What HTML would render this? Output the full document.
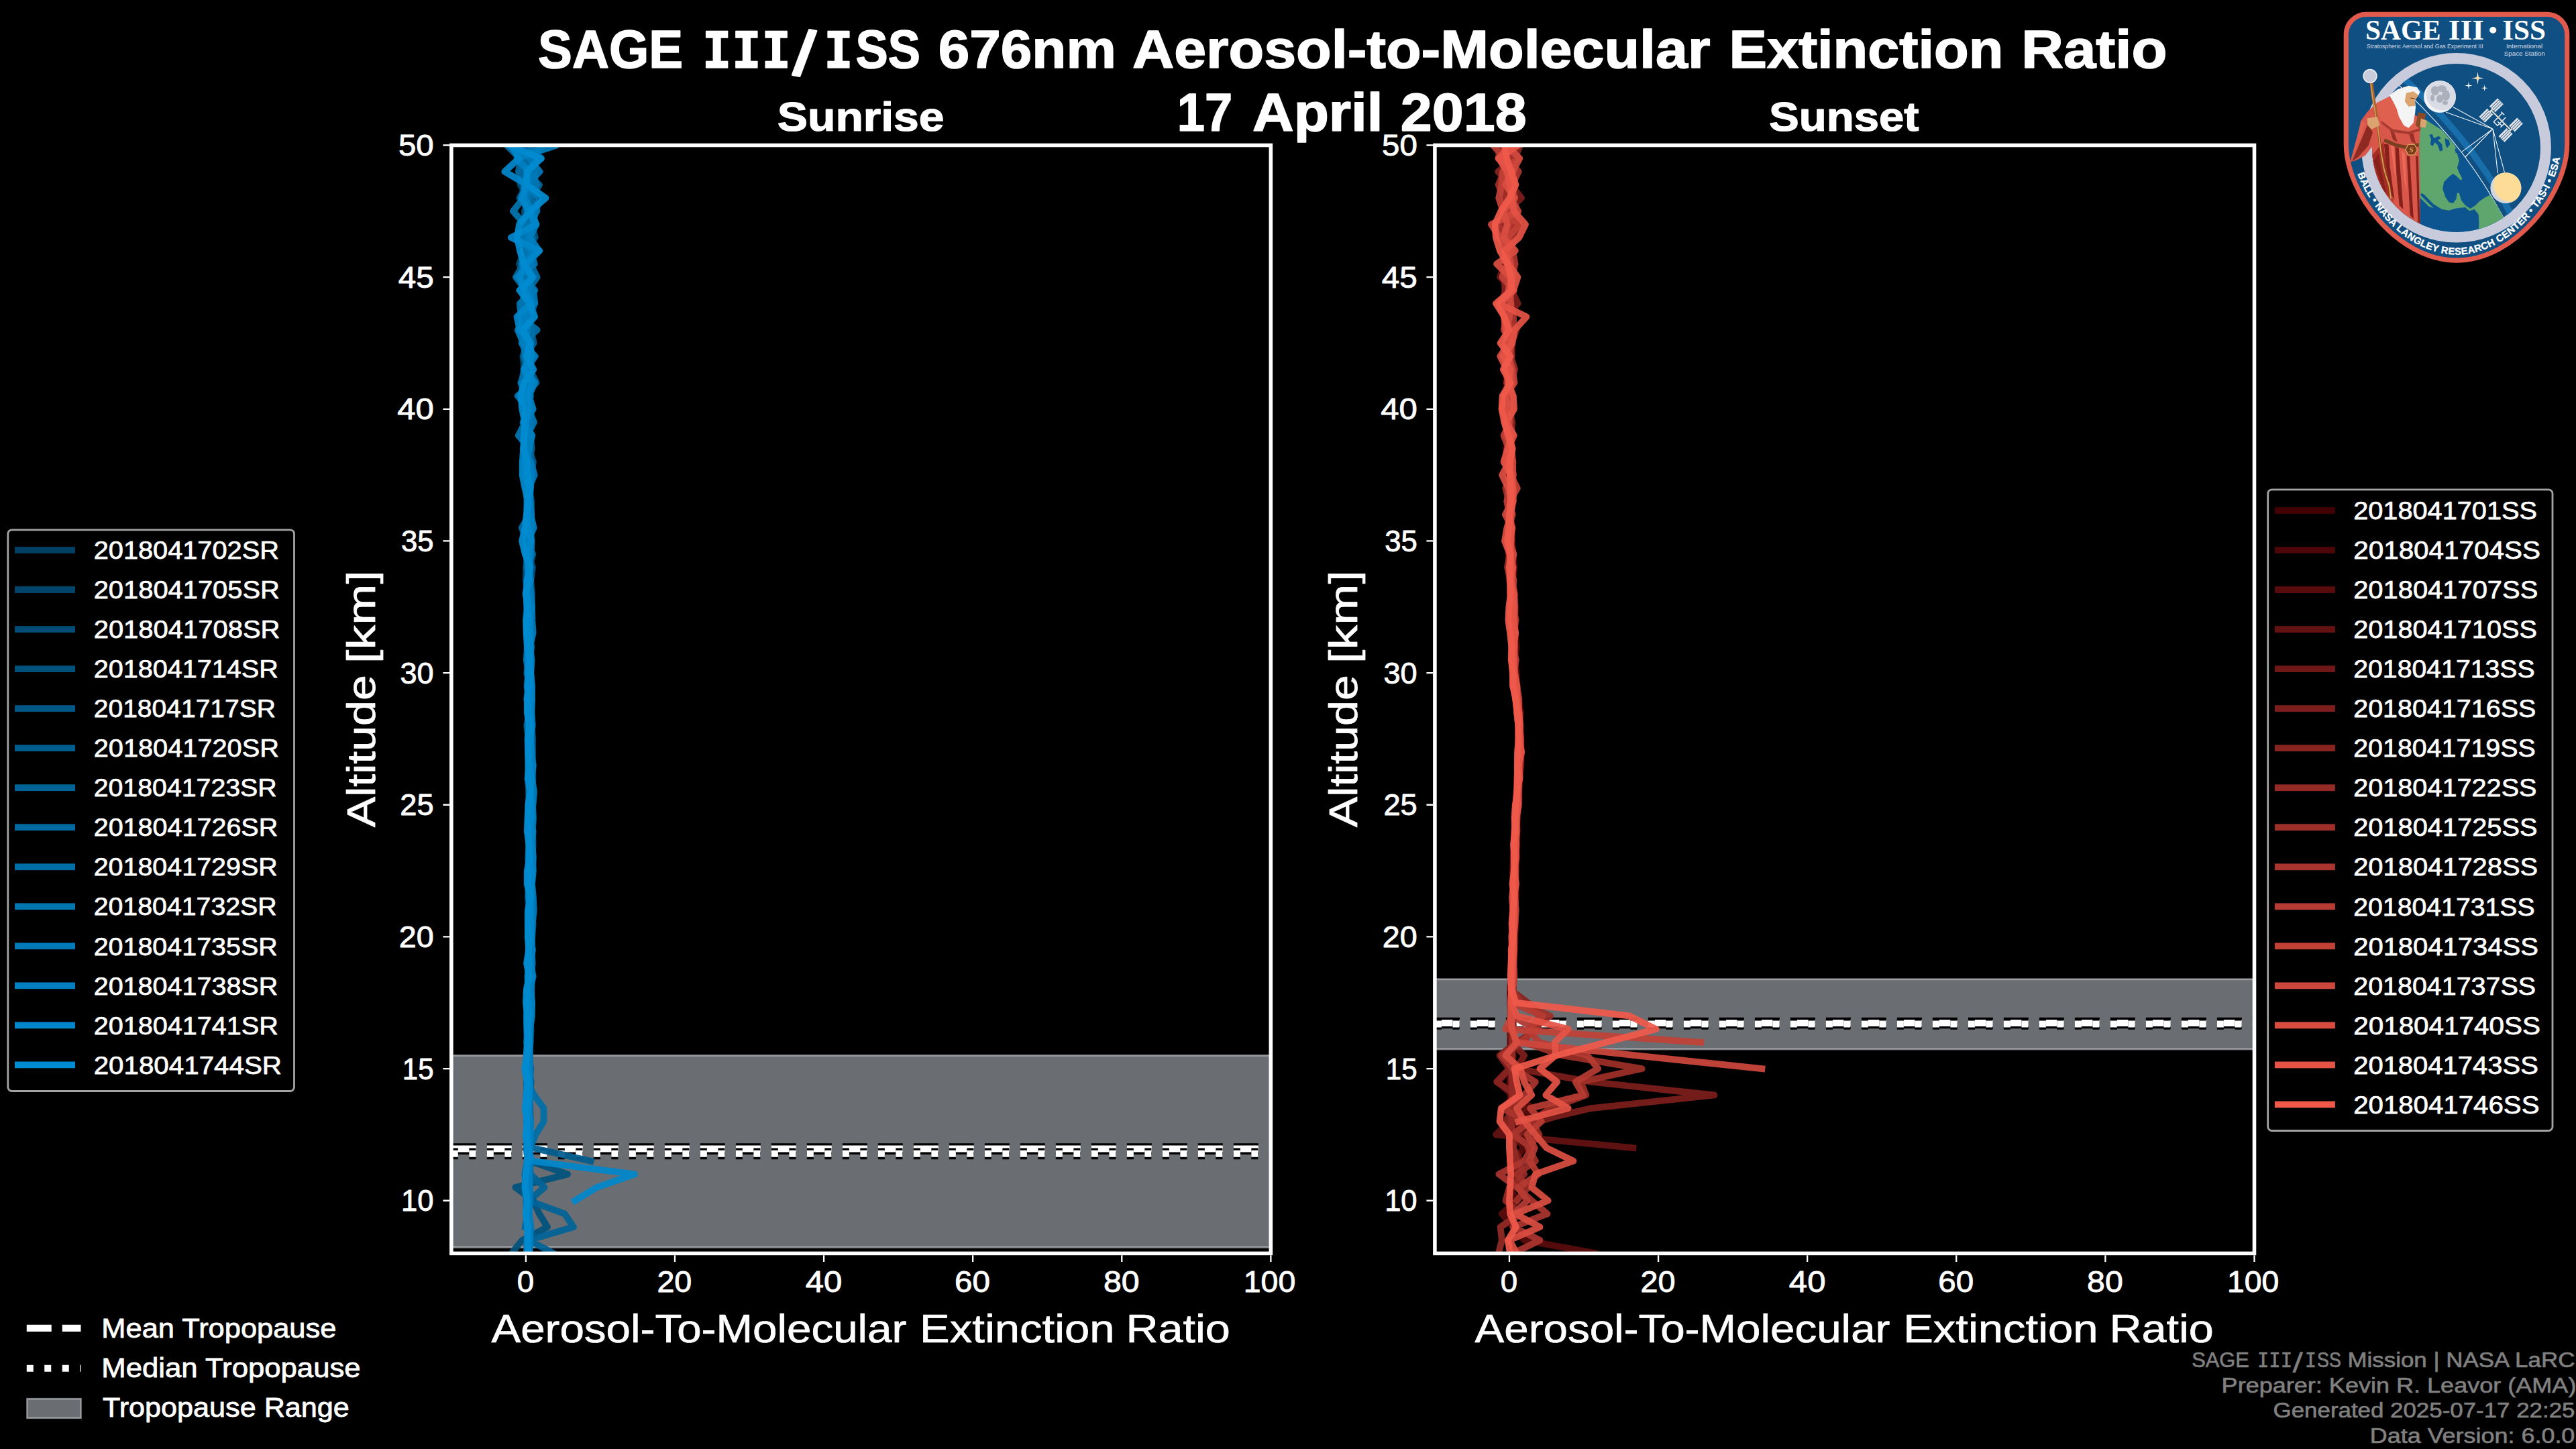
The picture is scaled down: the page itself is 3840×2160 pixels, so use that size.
<!DOCTYPE html>
<html lang="en"><head><meta charset="utf-8"><title>SAGE III/ISS 676nm Aerosol-to-Molecular Extinction Ratio</title>
<style>
html,body{margin:0;padding:0;background:#000;}
body{width:3840px;height:2160px;overflow:hidden;}
svg{display:block;}
text{white-space:pre;}
</style></head><body>
<svg width="3840" height="2160" viewBox="0 0 3840 2160">
<rect width="3840" height="2160" fill="#000"/>
<clipPath id="clip0"><rect x="672.85" y="216.5" width="1221.5" height="1651.9"/></clipPath>
<g clip-path="url(#clip0)">
<rect x="667.85" y="1573.42" width="1231.5" height="285.94" fill="#6a6d72" stroke="#d0d2d6" stroke-opacity="0.6" stroke-width="2.8"/>
<path d="M672.85 1712.6H1894.35" stroke="#000" stroke-width="16.7" stroke-dasharray="37 16" fill="none"/>
<path d="M672.85 1712.6H1894.35" stroke="#fff" stroke-width="10" stroke-dasharray="37 16" fill="none"/>
<path d="M672.85 1719.8H1894.35" stroke="#000" stroke-width="16.7" stroke-dasharray="10 16.5" fill="none"/>
<path d="M672.85 1719.8H1894.35" stroke="#fff" stroke-width="10" stroke-dasharray="10 16.5" fill="none"/>
<g fill="none" stroke-width="9.8" stroke-linejoin="round" stroke-linecap="square" opacity="1">
<path d="M772.89 196.83L786.71 216.5L780.94 236.17L775.08 255.83L775.28 275.5L787.16 295.16L781.92 314.83L783.4 334.49L782.56 354.16L784.15 373.82L791.93 393.49L780.47 413.15L782.48 432.82L786.14 452.49L784.17 472.15L782.16 491.82L784.73 511.48L785.46 531.15L782.22 550.81L786.57 570.48L785.47 590.14L783.85 609.81L786.44 629.48L783.79 649.14L786.87 668.81L782.98 688.47L785.79 708.14L786.42 727.8L785.02 747.47L785.12 767.13L783.68 786.8L786.34 806.46L784.84 826.13L785.35 845.8L786.83 865.46L784.36 885.13L786.16 904.79L787.07 924.46L785.41 944.12L785.44 963.79L787.36 983.45L787.51 1003.12L787.99 1022.78L787.21 1042.45L787.39 1062.12L786.88 1081.78L787.58 1101.45L788.24 1121.11L787.92 1140.78L788.34 1160.44L788.33 1180.11L790.03 1199.77L788.69 1219.44L789.51 1239.1L789.05 1258.77L787.94 1278.44L789.47 1298.1L788.32 1317.77L788.74 1337.43L789.73 1357.1L789.35 1376.76L788.14 1396.43L788.33 1416.09L787.3 1435.76L786.9 1455.43L787.29 1475.09L787.4 1494.76L787.22 1514.42L786.46 1534.09L785.69 1553.75L785.61 1573.42L784.45 1593.08L785.38 1612.75L785.37 1632.41L784.96 1652.08L785.06 1671.75" stroke="#004064" stroke-opacity="0.93"/>
<path d="M792.67 196.83L804.42 216.5L792.98 236.17L782.77 255.83L783.95 275.5L782.84 295.16L786.92 314.83L790.25 334.49L785.04 354.16L783.32 373.82L787.86 393.49L786.01 413.15L786.88 432.82L787.75 452.49L786.77 472.15L783.41 491.82L783.81 511.48L786.9 531.15L784.72 550.81L784.57 570.48L787.18 590.14L788.8 609.81L786.34 629.48L787.68 649.14L788.14 668.81L784.65 688.47L785.4 708.14L784.52 727.8L786.25 747.47L788.24 767.13L786.44 786.8L788.25 806.46L787.78 826.13L787.9 845.8L786.93 865.46L788.61 885.13L788.4 904.79L788.83 924.46L788.81 944.12L788.9 963.79L788.76 983.45L789.17 1003.12L790.01 1022.78L789.88 1042.45L790.36 1062.12L790.38 1081.78L790.04 1101.45L789.73 1121.11L790.3 1140.78L791.82 1160.44L790.61 1180.11L791.68 1199.77L791.89 1219.44L791.07 1239.1L792.05 1258.77L790.64 1278.44L791.26 1298.1L791.17 1317.77L791.31 1337.43L791.2 1357.1L790.22 1376.76L792.24 1396.43L791.51 1416.09L789.52 1435.76L790.71 1455.43L790.32 1475.09L789.51 1494.76L787.92 1514.42L788.76 1534.09L788.02 1553.75L788.47 1573.42L788.64 1593.08L787.58 1612.75L786.42 1632.41L786.49 1652.08L788.09 1671.75L788.63 1691.41" stroke="#00466c" stroke-opacity="0.93"/>
<path d="M779.69 196.83L780.11 216.5L781.1 236.17L773.97 255.83L776.66 275.5L789.51 295.16L782.12 314.83L783.09 334.49L776.4 354.16L782.49 373.82L773.97 393.49L782.73 413.15L783.53 432.82L780.09 452.49L784.26 472.15L785.86 491.82L785.95 511.48L779.46 531.15L781.54 550.81L782.15 570.48L782.24 590.14L784.15 609.81L782.98 629.48L784.15 649.14L782.34 668.81L782.68 688.47L784.05 708.14L783.68 727.8L786.16 747.47L785.78 767.13L784.51 786.8L783.77 806.46L785.42 826.13L784.29 845.8L783.71 865.46L787.39 885.13L786.46 904.79L786.86 924.46L785.29 944.12L785.91 963.79L785.73 983.45L787.39 1003.12L786.02 1022.78L787.81 1042.45L788.69 1062.12L786.95 1081.78L787.52 1101.45L787.64 1121.11L789.24 1140.78L788.46 1160.44L787.92 1180.11L788.13 1199.77L788.81 1219.44L788.4 1239.1L788.95 1258.77L787.98 1278.44L789.74 1298.1L788.32 1317.77L786.9 1337.43L788.32 1357.1L787.96 1376.76L788.48 1396.43L789.83 1416.09L787.3 1435.76L787.73 1455.43L787.51 1475.09L787.84 1494.76L785.49 1514.42L785.88 1534.09L786.29 1553.75L784.95 1573.42L783.78 1593.08L785.44 1612.75L786 1632.41" stroke="#004c75" stroke-opacity="0.93"/>
<path d="M773.41 196.83L792.39 216.5L787.66 236.17L782.62 255.83L797.44 275.5L792.85 295.16L793.12 314.83L792.75 334.49L797.91 354.16L780.98 373.82L790.12 393.49L789.93 413.15L790.07 432.82L796.8 452.49L791.58 472.15L789.06 491.82L790.2 511.48L789.85 531.15L786.54 550.81L788.42 570.48L784.65 590.14L791.22 609.81L788.42 629.48L786.44 649.14L789.8 668.81L786.39 688.47L790.07 708.14L788.14 727.8L787.93 747.47L791.28 767.13L791.87 786.8L789.18 806.46L788.95 826.13L790.39 845.8L790.21 865.46L791.41 885.13L793.18 904.79L790.69 924.46L792.09 944.12L790.43 963.79L791.17 983.45L790.77 1003.12L791.26 1022.78L792.05 1042.45L791.65 1062.12L792.74 1081.78L794.14 1101.45L793.96 1121.11L794.33 1140.78L794.18 1160.44L793.44 1180.11L793.44 1199.77L791.06 1219.44L793.91 1239.1L794.63 1258.77L793.47 1278.44L793.67 1298.1L792.2 1317.77L793.12 1337.43L794.29 1357.1L792.63 1376.76L792.77 1396.43L793.24 1416.09L791.78 1435.76L792.22 1455.43L791.6 1475.09L791.33 1494.76L791.3 1514.42L789.94 1534.09L789.3 1553.75L789.26 1573.42L789.62 1593.08L789.49 1612.75L789.5 1632.41L789.13 1652.08L790.54 1671.75L789.44 1691.41L789.3 1711.08L789.45 1730.74L846.08 1750.41L768.35 1770.07L795 1789.74L803.88 1809.4L816.1 1829.07L778.34 1848.73L762.8 1868.4L756.13 1888.07" stroke="#00527d" stroke-opacity="0.93"/>
<path d="M800.17 196.83L775.58 216.5L789.38 236.17L796.21 255.83L784.74 275.5L774.39 295.16L792.74 314.83L788.73 334.49L790.99 354.16L786.38 373.82L785.34 393.49L784.19 413.15L781.97 432.82L780.65 452.49L784.38 472.15L786.32 491.82L785.93 511.48L793.59 531.15L785.9 550.81L785.98 570.48L784.61 590.14L789.47 609.81L788.68 629.48L790.64 649.14L787.91 668.81L788.64 688.47L785.82 708.14L787.09 727.8L790.17 747.47L788.31 767.13L786.2 786.8L791.75 806.46L787 826.13L793.98 845.8L791.15 865.46L792.98 885.13L792.5 904.79L791.25 924.46L791.46 944.12L789.75 963.79L789.62 983.45L789.69 1003.12L792.32 1022.78L791.88 1042.45L791.84 1062.12L792.3 1081.78L792.19 1101.45L793.13 1121.11L793.67 1140.78L794.29 1160.44L793.89 1180.11L793.93 1199.77L795.24 1219.44L793.66 1239.1L793.51 1258.77L793.79 1278.44L792.37 1298.1L792.37 1317.77L792.52 1337.43L792.41 1357.1L791.8 1376.76L792.81 1396.43L792.16 1416.09L794 1435.76L791.52 1455.43L790.17 1475.09L792.72 1494.76L790.07 1514.42L789.74 1534.09L790.32 1553.75L790 1573.42L788.66 1593.08L791.65 1612.75L790.11 1632.41L790.09 1652.08L790.7 1671.75L789.42 1691.41L789.89 1711.08" stroke="#005786" stroke-opacity="0.93"/>
<path d="M775.52 196.83L804.57 216.5L796.66 236.17L785.13 255.83L788.71 275.5L780.06 295.16L791.71 314.83L794.02 334.49L787.89 354.16L783.92 373.82L784.59 393.49L783.06 413.15L790.98 432.82L793.03 452.49L783.67 472.15L791.63 491.82L795.78 511.48L781.36 531.15L789.89 550.81L799.64 570.48L781.13 590.14L782.65 609.81L789.93 629.48L785.03 649.14L788.51 668.81L794.91 688.47L792.34 708.14L788.86 727.8L792.05 747.47L791.64 767.13L789.6 786.8L785.5 806.46L794.3 826.13L788.97 845.8L789.69 865.46L788.47 885.13L788.48 904.79L790 924.46L790.61 944.12L788.88 963.79L791.5 983.45L789.73 1003.12L788.76 1022.78L789.94 1042.45L792.28 1062.12L789.66 1081.78L791.94 1101.45L791.84 1121.11L791.83 1140.78L793.17 1160.44L792.95 1180.11L793.72 1199.77L794.02 1219.44L793.82 1239.1L793.45 1258.77L791.08 1278.44L794.19 1298.1L792.62 1317.77L793.45 1337.43L792.83 1357.1L794.53 1376.76L793.34 1396.43L791.67 1416.09L793.38 1435.76L790.46 1455.43L791.7 1475.09L791.82 1494.76L789.55 1514.42L791.52 1534.09L790.6 1553.75L788.07 1573.42L791.35 1593.08L789.25 1612.75L790.02 1632.41L790.18 1652.08L788.88 1671.75L790.76 1691.41L792.78 1711.08L880.5 1730.74" stroke="#005d8e" stroke-opacity="0.93"/>
<path d="M788.65 196.83L785.36 216.5L807.28 236.17L779.62 255.83L803.99 275.5L792.76 295.16L788.81 314.83L781.73 334.49L794.49 354.16L785.65 373.82L776.97 393.49L790.01 413.15L783.18 432.82L777.94 452.49L785.95 472.15L793.19 491.82L789.8 511.48L790.11 531.15L785.42 550.81L787.33 570.48L783.01 590.14L792.81 609.81L789.02 629.48L790.71 649.14L792.62 668.81L788.86 688.47L789.26 708.14L788.92 727.8L787.99 747.47L785.78 767.13L785.53 786.8L787.48 806.46L786.52 826.13L788.77 845.8L789.45 865.46L789.82 885.13L789.57 904.79L790.46 924.46L788.25 944.12L792.35 963.79L790.06 983.45L790.72 1003.12L790.21 1022.78L791.13 1042.45L792.07 1062.12L788.59 1081.78L791.44 1101.45L788.73 1121.11L790.49 1140.78L791.48 1160.44L790.89 1180.11L793.31 1199.77L792.31 1219.44L793.47 1239.1L790.9 1258.77L793.07 1278.44L793.08 1298.1L790.83 1317.77L792.8 1337.43L792.92 1357.1L791.63 1376.76L790.44 1396.43L791.82 1416.09L791.25 1435.76L789.13 1455.43L790 1475.09L788.39 1494.76L789.78 1514.42L787.57 1534.09L788.48 1553.75L789.14 1573.42L790.28 1593.08L788.39 1612.75L787.9 1632.41L788.53 1652.08L789.23 1671.75L788.72 1691.41L787 1711.08L789.89 1730.74L790.56 1750.41L811.66 1770.07L788.34 1789.74L841.64 1809.4L854.96 1829.07L788.34 1848.73L824.98 1868.4L850.52 1888.07" stroke="#006397" stroke-opacity="0.93"/>
<path d="M751.73 196.83L765.98 216.5L776.13 236.17L772.93 255.83L782.08 275.5L789.41 295.16L800.51 314.83L784.2 334.49L784.34 354.16L795.49 373.82L780.05 393.49L768.97 413.15L783.33 432.82L789.94 452.49L787.64 472.15L791.7 491.82L792.48 511.48L780.61 531.15L787.65 550.81L788.07 570.48L786.94 590.14L785.81 609.81L782.63 629.48L785.02 649.14L784.71 668.81L787.52 688.47L780.04 708.14L787.96 727.8L785.81 747.47L788.89 767.13L784.16 786.8L786.89 806.46L784.89 826.13L789.47 845.8L788.02 865.46L784.04 885.13L788.76 904.79L785.16 924.46L786.65 944.12L788.19 963.79L785.51 983.45L786.71 1003.12L788.34 1022.78L785.21 1042.45L789.14 1062.12L785.31 1081.78L787.78 1101.45L787.24 1121.11L789.46 1140.78L787.96 1160.44L790.19 1180.11L787.45 1199.77L788.59 1219.44L789.51 1239.1L788.38 1258.77L790.56 1278.44L788.2 1298.1L788.83 1317.77L787.88 1337.43L790.45 1357.1L788.14 1376.76L786.71 1396.43L789 1416.09L788.44 1435.76L786.65 1455.43L788.9 1475.09L785.97 1494.76L786.8 1514.42L786.77 1534.09L787.58 1553.75L787.21 1573.42L784.56 1593.08L787.6 1612.75L784.12 1632.41L787.75 1652.08L784.77 1671.75L787.83 1691.41L784.65 1711.08L786.83 1730.74L785.34 1750.41L784.84 1770.07L786.46 1789.74L786.13 1809.4L782.87 1829.07" stroke="#00699f" stroke-opacity="0.93"/>
<path d="M795.85 196.83L755.31 216.5L775.21 236.17L790.29 255.83L785.21 275.5L787.85 295.16L785.18 314.83L790.17 334.49L787.42 354.16L779.13 373.82L790.84 393.49L800.63 413.15L786.79 432.82L782.25 452.49L775.19 472.15L800.67 491.82L777.49 511.48L788.95 531.15L781.24 550.81L777.34 570.48L791.01 590.14L786.42 609.81L785.91 629.48L780.39 649.14L781.08 668.81L789.06 688.47L792.33 708.14L784.24 727.8L786.26 747.47L789.11 767.13L777.77 786.8L785.62 806.46L787.9 826.13L785.05 845.8L789.14 865.46L783.51 885.13L787.44 904.79L787.31 924.46L787.49 944.12L786.12 963.79L784.65 983.45L787.63 1003.12L785.55 1022.78L789.22 1042.45L788.24 1062.12L789.28 1081.78L787.67 1101.45L788.08 1121.11L788.97 1140.78L786.48 1160.44L789.33 1180.11L788.41 1199.77L788.31 1219.44L788.81 1239.1L788.72 1258.77L787.14 1278.44L789.3 1298.1L788.31 1317.77L788.67 1337.43L789.09 1357.1L790.14 1376.76L787.73 1396.43L789.43 1416.09L789.38 1435.76L786.35 1455.43L787.58 1475.09L787.23 1494.76L784.6 1514.42L785.18 1534.09L785.94 1553.75L784.61 1573.42L785.94 1593.08L785.46 1612.75L796.11 1632.41L810.55 1652.08L810.55 1671.75L798.33 1691.41L790.56 1711.08L785.84 1730.74L782.28 1750.41L784.04 1770.07L784.15 1789.74L784.59 1809.4L787.72 1829.07L785.66 1848.73L784.78 1868.4L786.05 1888.07" stroke="#006fa8" stroke-opacity="0.93"/>
<path d="M764.86 196.83L789.43 216.5L798.37 236.17L793.91 255.83L800.03 275.5L780.38 295.16L764.92 314.83L782.29 334.49L776.83 354.16L786.88 373.82L787.47 393.49L780.28 413.15L797.25 432.82L774.86 452.49L776.6 472.15L782.33 491.82L788.34 511.48L786.26 531.15L786.09 550.81L776.35 570.48L782.93 590.14L783.15 609.81L782.87 629.48L772.78 649.14L789.25 668.81L781.4 688.47L782.03 708.14L786.7 727.8L786.16 747.47L786.44 767.13L788.5 786.8L785.49 806.46L784.03 826.13L788.04 845.8L791.33 865.46L786.18 885.13L785.57 904.79L784 924.46L784.62 944.12L786.93 963.79L788.2 983.45L785.4 1003.12L789.53 1022.78L788.61 1042.45L786.52 1062.12L787.52 1081.78L790.92 1101.45L788.02 1121.11L787.89 1140.78L790.2 1160.44L790.1 1180.11L787.69 1199.77L788.98 1219.44L790.8 1239.1L788.54 1258.77L788.67 1278.44L788.34 1298.1L787.3 1317.77L788 1337.43L790.3 1357.1L790.13 1376.76L791.61 1396.43L788.44 1416.09L786.99 1435.76L788.04 1455.43L788.48 1475.09L787.67 1494.76L788.34 1514.42L787.19 1534.09L785 1553.75L788.13 1573.42L783.67 1593.08L785.92 1612.75L786.73 1632.41L785.79 1652.08L784.69 1671.75L786.68 1691.41L784.81 1711.08L786.41 1730.74L788.97 1750.41" stroke="#0075b0" stroke-opacity="0.93"/>
<path d="M763.84 196.83L808.45 216.5L788.25 236.17L804.57 255.83L785.57 275.5L803.48 295.16L799.11 314.83L793.47 334.49L786.93 354.16L790.85 373.82L796.7 393.49L770.02 413.15L795.27 432.82L797.33 452.49L780.57 472.15L787.02 491.82L779.99 511.48L783.37 531.15L787.46 550.81L793.76 570.48L771.73 590.14L787.82 609.81L795.98 629.48L785.52 649.14L780.03 668.81L791.22 688.47L796.66 708.14L788.25 727.8L790.43 747.47L792.27 767.13L789.96 786.8L792.57 806.46L791.64 826.13L787.69 845.8L789.47 865.46L791.47 885.13L792.95 904.79L793.46 924.46L794.61 944.12L789.83 963.79L792.53 983.45L791.34 1003.12L792.69 1022.78L793.11 1042.45L792.49 1062.12L793.78 1081.78L790.48 1101.45L793.25 1121.11L791.17 1140.78L792.93 1160.44L796.2 1180.11L794.47 1199.77L790.9 1219.44L794.68 1239.1L793.08 1258.77L793.85 1278.44L794.88 1298.1L793.1 1317.77L794.89 1337.43L795.87 1357.1L793.63 1376.76L792.68 1396.43L793.34 1416.09L792.08 1435.76L792.51 1455.43L792.2 1475.09L792.64 1494.76L789.66 1514.42L788.65 1534.09L789.58 1553.75L789.84 1573.42L790.1 1593.08L790.51 1612.75L790.11 1632.41L789.19 1652.08L789.37 1671.75L790.5 1691.41L789.89 1711.08L790.09 1730.74L789.67 1750.41L790.08 1770.07L790.15 1789.74L788.35 1809.4L791.86 1829.07L789.56 1848.73L789.5 1868.4L790.71 1888.07" stroke="#007ab9" stroke-opacity="0.93"/>
<path d="M797.41 196.83L829.46 216.5L770.6 236.17L788.02 255.83L781.01 275.5L782.07 295.16L792.1 314.83L799.33 334.49L789.73 354.16L803.55 373.82L778.97 393.49L792.39 413.15L786.58 432.82L793.52 452.49L784.12 472.15L771.8 491.82L780.16 511.48L797.73 531.15L783.67 550.81L797.24 570.48L788.42 590.14L794.69 609.81L779.66 629.48L793.38 649.14L788.42 668.81L786.39 688.47L792.02 708.14L790.97 727.8L789.25 747.47L791.08 767.13L795.73 786.8L786.98 806.46L789.79 826.13L789.44 845.8L785.34 865.46L785.63 885.13L792.48 904.79L787.97 924.46L790.06 944.12L788.14 963.79L786.84 983.45L790.94 1003.12L792.99 1022.78L792.74 1042.45L791.2 1062.12L790.72 1081.78L791.94 1101.45L791.12 1121.11L794.8 1140.78L791.97 1160.44L790.78 1180.11L793.48 1199.77L794.3 1219.44L792.58 1239.1L793.42 1258.77L794.9 1278.44L793.37 1298.1L792.1 1317.77L792.67 1337.43L791.02 1357.1L791.78 1376.76L790.82 1396.43L793.88 1416.09L791.12 1435.76L794.7 1455.43L790.26 1475.09L793.08 1494.76L792.86 1514.42L790.09 1534.09L788.9 1553.75L788.36 1573.42L788.5 1593.08L789.52 1612.75L789.19 1632.41L787.15 1652.08L791.25 1671.75L790.74 1691.41L789.87 1711.08L789.98 1730.74L788.08 1750.41L788.67 1770.07L787.19 1789.74L789.16 1809.4L787.44 1829.07L790.44 1848.73L788.88 1868.4L789.21 1888.07" stroke="#0080c1" stroke-opacity="0.93"/>
<path d="M772.05 196.83L762.43 216.5L773.57 236.17L752.31 255.83L785.64 275.5L777.23 295.16L788.27 314.83L799.39 334.49L761.77 354.16L804.35 373.82L784.09 393.49L774.45 413.15L781.7 432.82L790.89 452.49L770.55 472.15L774.9 491.82L790.01 511.48L792.74 531.15L780.73 550.81L793.17 570.48L785.93 590.14L788.04 609.81L784.12 629.48L782.42 649.14L780.17 668.81L778.76 688.47L778.61 708.14L782.48 727.8L787.21 747.47L785.77 767.13L787.15 786.8L791.6 806.46L787.01 826.13L787.49 845.8L789.27 865.46L784.54 885.13L785.34 904.79L789.19 924.46L789.58 944.12L790.75 963.79L790.46 983.45L790.99 1003.12L790.21 1022.78L788.79 1042.45L789.24 1062.12L791.79 1081.78L790.6 1101.45L789.43 1121.11L788.64 1140.78L791.95 1160.44L791.1 1180.11L791.53 1199.77L790.92 1219.44L788.68 1239.1L789.1 1258.77L789.83 1278.44L792.18 1298.1L791.76 1317.77L788.74 1337.43L790.72 1357.1L790.81 1376.76L790.96 1396.43L787.73 1416.09L789.55 1435.76L787.65 1455.43L785.96 1475.09L787.73 1494.76L789.56 1514.42L787.24 1534.09L789.38 1553.75L785.98 1573.42L784.46 1593.08L788.79 1612.75L788.21 1632.41L787.39 1652.08L784.62 1671.75L786.6 1691.41L787.37 1711.08L792.78 1730.74L946.02 1750.41L889.39 1770.07L857.19 1789.74" stroke="#0086ca" stroke-opacity="0.93"/>
<path d="M804.74 196.83L759.05 216.5L806.41 236.17L785.43 255.83L785.38 275.5L813.51 295.16L790.32 314.83L774.08 334.49L771.03 354.16L775.01 373.82L780.82 393.49L794.4 413.15L774.39 432.82L789.72 452.49L797.07 472.15L779.28 491.82L790.63 511.48L785.08 531.15L795.26 550.81L781.19 570.48L776.39 590.14L778.3 609.81L782.29 629.48L780.85 649.14L780.51 668.81L786.04 688.47L786.45 708.14L790.01 727.8L786.61 747.47L784.89 767.13L782.74 786.8L778.04 806.46L782.83 826.13L790.35 845.8L785.91 865.46L783.97 885.13L786.74 904.79L784.9 924.46L784.86 944.12L786.11 963.79L788.68 983.45L787.96 1003.12L787.02 1022.78L785.96 1042.45L785.81 1062.12L789.25 1081.78L786.62 1101.45L787.1 1121.11L787.56 1140.78L787.31 1160.44L790.57 1180.11L787.49 1199.77L786.46 1219.44L785.73 1239.1L788.44 1258.77L789.4 1278.44L785.75 1298.1L785.66 1317.77L790.8 1337.43L786.83 1357.1L786.76 1376.76L787.02 1396.43L788.17 1416.09L785.02 1435.76L788.93 1455.43L784.72 1475.09L783.94 1494.76L786.09 1514.42L786 1534.09L786.55 1553.75L785.19 1573.42L782.17 1593.08L785.69 1612.75L784.81 1632.41L782.8 1652.08L785.63 1671.75L783.7 1691.41L785.86 1711.08L786.09 1730.74L784.1 1750.41L782.28 1770.07L785.89 1789.74L783.73 1809.4L786.32 1829.07L786.12 1848.73L787.25 1868.4L785.13 1888.07" stroke="#008cd2" stroke-opacity="0.93"/>
</g></g>
<rect x="672.85" y="216.5" width="1221.5" height="1651.9" fill="none" stroke="#fff" stroke-width="5.56"/>
<path d="M670.07 1789.74h-9.7M670.07 1593.08h-9.7M670.07 1396.43h-9.7M670.07 1199.77h-9.7M670.07 1003.12h-9.7M670.07 806.46h-9.7M670.07 609.81h-9.7M670.07 413.15h-9.7M670.07 216.5h-9.7M783.9 1871.18v9.7M1005.99 1871.18v9.7M1228.08 1871.18v9.7M1450.17 1871.18v9.7M1672.26 1871.18v9.7M1894.35 1871.18v9.7" stroke="#fff" stroke-width="2.3" fill="none"/>
<text x="598.11" y="1805.29" font-family="'Liberation Sans', sans-serif" font-size="44.38" font-weight="normal" fill="#fff" stroke="#fff" stroke-width="0.89" stroke-linejoin="round" textLength="48.43" lengthAdjust="spacingAndGlyphs">10</text>
<text x="599.78" y="1608.64" font-family="'Liberation Sans', sans-serif" font-size="44.38" font-weight="normal" fill="#fff" stroke="#fff" stroke-width="0.89" stroke-linejoin="round" textLength="46.81" lengthAdjust="spacingAndGlyphs">15</text>
<text x="594.76" y="1411.98" font-family="'Liberation Sans', sans-serif" font-size="44.38" font-weight="normal" fill="#fff" stroke="#fff" stroke-width="0.89" stroke-linejoin="round" textLength="51.9" lengthAdjust="spacingAndGlyphs">20</text>
<text x="596.39" y="1215.33" font-family="'Liberation Sans', sans-serif" font-size="44.38" font-weight="normal" fill="#fff" stroke="#fff" stroke-width="0.89" stroke-linejoin="round" textLength="50.33" lengthAdjust="spacingAndGlyphs">25</text>
<text x="596.48" y="1018.68" font-family="'Liberation Sans', sans-serif" font-size="44.38" font-weight="normal" fill="#fff" stroke="#fff" stroke-width="0.89" stroke-linejoin="round" textLength="50.12" lengthAdjust="spacingAndGlyphs">30</text>
<text x="598.1" y="822.02" font-family="'Liberation Sans', sans-serif" font-size="44.38" font-weight="normal" fill="#fff" stroke="#fff" stroke-width="0.89" stroke-linejoin="round" textLength="48.56" lengthAdjust="spacingAndGlyphs">35</text>
<text x="592.15" y="625.37" font-family="'Liberation Sans', sans-serif" font-size="44.38" font-weight="normal" fill="#fff" stroke="#fff" stroke-width="0.89" stroke-linejoin="round" textLength="54.61" lengthAdjust="spacingAndGlyphs">40</text>
<text x="593.74" y="428.71" font-family="'Liberation Sans', sans-serif" font-size="44.38" font-weight="normal" fill="#fff" stroke="#fff" stroke-width="0.89" stroke-linejoin="round" textLength="53.09" lengthAdjust="spacingAndGlyphs">45</text>
<text x="594" y="232.06" font-family="'Liberation Sans', sans-serif" font-size="44.38" font-weight="normal" fill="#fff" stroke="#fff" stroke-width="0.89" stroke-linejoin="round" textLength="52.69" lengthAdjust="spacingAndGlyphs">50</text>
<text x="770.77" y="1925.86" font-family="'Liberation Sans', sans-serif" font-size="44.38" font-weight="normal" fill="#fff" stroke="#fff" stroke-width="0.89" stroke-linejoin="round" textLength="25.38" lengthAdjust="spacingAndGlyphs">0</text>
<text x="979.4" y="1925.86" font-family="'Liberation Sans', sans-serif" font-size="44.38" font-weight="normal" fill="#fff" stroke="#fff" stroke-width="0.89" stroke-linejoin="round" textLength="51.9" lengthAdjust="spacingAndGlyphs">20</text>
<text x="1200.8" y="1925.86" font-family="'Liberation Sans', sans-serif" font-size="44.38" font-weight="normal" fill="#fff" stroke="#fff" stroke-width="0.89" stroke-linejoin="round" textLength="54.61" lengthAdjust="spacingAndGlyphs">40</text>
<text x="1423.12" y="1925.86" font-family="'Liberation Sans', sans-serif" font-size="44.38" font-weight="normal" fill="#fff" stroke="#fff" stroke-width="0.89" stroke-linejoin="round" textLength="52.82" lengthAdjust="spacingAndGlyphs">60</text>
<text x="1644.99" y="1925.86" font-family="'Liberation Sans', sans-serif" font-size="44.38" font-weight="normal" fill="#fff" stroke="#fff" stroke-width="0.89" stroke-linejoin="round" textLength="53.6" lengthAdjust="spacingAndGlyphs">80</text>
<text x="1853.82" y="1925.86" font-family="'Liberation Sans', sans-serif" font-size="44.38" font-weight="normal" fill="#fff" stroke="#fff" stroke-width="0.89" stroke-linejoin="round" textLength="77.38" lengthAdjust="spacingAndGlyphs">100</text>
<text stroke-linejoin="round"><tspan x="732.49" y="2001.35" font-family="'Liberation Sans', sans-serif" font-size="58.61" font-weight="normal" fill="#fff" stroke="#fff" stroke-width="0.7" textLength="618.88" lengthAdjust="spacingAndGlyphs">Aerosol-To-Molecular</tspan><tspan> </tspan><tspan x="1371.13" y="2001.35" font-family="'Liberation Sans', sans-serif" font-size="58.61" font-weight="normal" fill="#fff" stroke="#fff" stroke-width="0.7" textLength="290.42" lengthAdjust="spacingAndGlyphs">Extinction</tspan><tspan> </tspan><tspan x="1678.46" y="2001.35" font-family="'Liberation Sans', sans-serif" font-size="58.61" font-weight="normal" fill="#fff" stroke="#fff" stroke-width="0.7" textLength="155.39" lengthAdjust="spacingAndGlyphs">Ratio</tspan></text>
<g transform="translate(558.9 1233.4) rotate(-90)">
<text stroke-linejoin="round"><tspan x="0.19" y="-0.36" font-family="'Liberation Sans', sans-serif" font-size="59.33" font-weight="normal" fill="#fff" stroke="#fff" stroke-width="0.71" textLength="226.99" lengthAdjust="spacingAndGlyphs">Altitude</tspan><tspan> </tspan><tspan x="244.53" y="-0.36" font-family="'Liberation Sans', sans-serif" font-size="59.33" font-weight="normal" fill="#fff" stroke="#fff" stroke-width="0.71" textLength="138.85" lengthAdjust="spacingAndGlyphs">[km]</tspan></text>
</g>
<clipPath id="clip1"><rect x="2138.9" y="216.5" width="1221.6" height="1651.9"/></clipPath>
<g clip-path="url(#clip1)">
<rect x="2133.9" y="1459.75" width="1231.6" height="104.23" fill="#6a6d72" stroke="#d0d2d6" stroke-opacity="0.6" stroke-width="2.8"/>
<path d="M2138.9 1525H3360.5" stroke="#000" stroke-width="16.7" stroke-dasharray="37 16" fill="none"/>
<path d="M2138.9 1525H3360.5" stroke="#fff" stroke-width="10" stroke-dasharray="37 16" fill="none"/>
<path d="M2138.9 1526.4H3360.5" stroke="#000" stroke-width="16.7" stroke-dasharray="10 16.5" fill="none"/>
<path d="M2138.9 1526.4H3360.5" stroke="#fff" stroke-width="10" stroke-dasharray="10 16.5" fill="none"/>
<g fill="none" stroke-width="9.8" stroke-linejoin="round" stroke-linecap="square" opacity="1">
<path d="M2250.49 196.83L2257.58 216.5L2253.61 236.17L2254.02 255.83L2247.37 275.5L2248.04 295.16L2245.25 314.83L2248.27 334.49L2250.36 354.16L2247.72 373.82L2245.25 393.49L2247.98 413.15L2249.07 432.82L2245.32 452.49L2246.59 472.15L2244.91 491.82L2249.76 511.48L2249.05 531.15L2246.33 550.81L2245.01 570.48L2246.75 590.14L2246.64 609.81L2248.3 629.48L2248.61 649.14L2244.69 668.81L2248.49 688.47L2246.44 708.14L2250.55 727.8L2249.72 747.47L2249.78 767.13L2248.46 786.8L2247.9 806.46L2250.4 826.13L2250.29 845.8L2250.75 865.46L2251.84 885.13L2252.59 904.79L2252.2 924.46L2253.31 944.12L2253.29 963.79L2255.64 983.45L2255.48 1003.12L2257.98 1022.78L2259.52 1042.45L2261.69 1062.12L2263.41 1081.78L2263.28 1101.45L2262.55 1121.11L2262.72 1140.78L2261.76 1160.44L2261.02 1180.11L2258.88 1199.77L2258.24 1219.44L2257.31 1239.1L2256.96 1258.77L2256.31 1278.44L2255.63 1298.1L2255.52 1317.77L2255.17 1337.43L2254.77 1357.1L2254.29 1376.76L2254.15 1396.43L2252.98 1416.09L2253.8 1435.76L2252.46 1455.43L2251.37 1475.09L2251.66 1494.76L2251.77 1514.42L2251.96 1534.09L2251.51 1553.75L2251.87 1573.42L2251.15 1593.08L2251.31 1612.75" stroke="#420004" stroke-opacity="0.93"/>
<path d="M2247.25 196.83L2248.14 216.5L2245.6 236.17L2255.48 255.83L2245.72 275.5L2242.73 295.16L2247.66 314.83L2242.87 334.49L2251.31 354.16L2243.39 373.82L2250.79 393.49L2251.33 413.15L2243.04 432.82L2248.19 452.49L2248.69 472.15L2252.43 491.82L2248.53 511.48L2249.84 531.15L2247.69 550.81L2249.6 570.48L2249.27 590.14L2251.01 609.81L2247.5 629.48L2247.55 649.14L2247.51 668.81L2248.1 688.47L2247.55 708.14L2247.57 727.8L2246.59 747.47L2248.75 767.13L2249.92 786.8L2247.86 806.46L2250.21 826.13L2251.44 845.8L2250.39 865.46L2251.51 885.13L2254.21 904.79L2252.2 924.46L2254.21 944.12L2255.2 963.79L2254.89 983.45L2255 1003.12L2257.75 1022.78L2259.64 1042.45L2260.82 1062.12L2264.11 1081.78L2264.08 1101.45L2263.32 1121.11L2263.19 1140.78L2262.6 1160.44L2260.53 1180.11L2260.24 1199.77L2258.28 1219.44L2258 1239.1L2256.47 1258.77L2256.05 1278.44L2255.5 1298.1L2255.73 1317.77L2254.86 1337.43L2254.74 1357.1L2254.98 1376.76L2254.23 1396.43L2254 1416.09L2252.76 1435.76L2252.76 1455.43L2251.02 1475.09L2252.5 1494.76L2251.92 1514.42L2251.63 1534.09L2251.55 1553.75L2251.52 1573.42L2251.76 1593.08L2250.47 1612.75L2251.29 1632.41L2250.59 1652.08" stroke="#4e0609" stroke-opacity="0.93"/>
<path d="M2245.97 196.83L2244.42 216.5L2254.5 236.17L2259.17 255.83L2256.9 275.5L2250.38 295.16L2252.22 314.83L2250.37 334.49L2248.33 354.16L2250.89 373.82L2245.37 393.49L2251.63 413.15L2254.53 432.82L2247.59 452.49L2253.73 472.15L2249.04 491.82L2254.1 511.48L2254.07 531.15L2250.37 550.81L2246.94 570.48L2253.44 590.14L2251.86 609.81L2251.57 629.48L2254.49 649.14L2253.22 668.81L2251.04 688.47L2256.55 708.14L2253.87 727.8L2254.99 747.47L2251.18 767.13L2254.57 786.8L2253.91 806.46L2255.57 826.13L2257.37 845.8L2255.85 865.46L2256.41 885.13L2256.92 904.79L2258.84 924.46L2258.59 944.12L2260.65 963.79L2258.53 983.45L2260.52 1003.12L2261.73 1022.78L2264.01 1042.45L2266.83 1062.12L2266.19 1081.78L2267.47 1101.45L2267.83 1121.11L2267.37 1140.78L2265.99 1160.44L2264.23 1180.11L2263.89 1199.77L2261.9 1219.44L2261.44 1239.1L2261.31 1258.77L2260.82 1278.44L2259.68 1298.1L2259.92 1317.77L2259.81 1337.43L2258.72 1357.1L2259.61 1376.76L2258.19 1396.43L2257.97 1416.09L2256.89 1435.76L2256.63 1455.43L2255.84 1475.09L2255.99 1494.76L2255.51 1514.42L2255.96 1534.09L2254.92 1553.75L2255.66 1573.42L2255.1 1593.08L2254.51 1612.75L2261.06 1632.41L2283.27 1652.08L2266.61 1671.75L2255.51 1691.41L2272.17 1711.08L2255.51 1730.74L2266.61 1750.41L2249.95 1770.07L2261.06 1789.74L2238.85 1809.4L2255.51 1829.07L2272.17 1848.73L2378.78 1868.4L2427.64 1888.07" stroke="#590c0d" stroke-opacity="0.93"/>
<path d="M2254.79 196.83L2236.8 216.5L2250.56 236.17L2257.9 255.83L2238.57 275.5L2241.71 295.16L2240.94 314.83L2242.16 334.49L2248.43 354.16L2243.12 373.82L2256.28 393.49L2253.42 413.15L2252.02 432.82L2251.49 452.49L2251.62 472.15L2247.48 491.82L2247.41 511.48L2251.25 531.15L2249.38 550.81L2252.84 570.48L2247.33 590.14L2248.74 609.81L2246.17 629.48L2247 649.14L2248.54 668.81L2248.95 688.47L2249.92 708.14L2247.33 727.8L2247.47 747.47L2248.26 767.13L2250.11 786.8L2249.47 806.46L2248.6 826.13L2249.09 845.8L2251.39 865.46L2253.56 885.13L2252.32 904.79L2254.24 924.46L2254.7 944.12L2254.38 963.79L2255.18 983.45L2255.54 1003.12L2257.85 1022.78L2259.51 1042.45L2261.84 1062.12L2263.58 1081.78L2263.8 1101.45L2264.06 1121.11L2263.13 1140.78L2263.08 1160.44L2260.78 1180.11L2259.75 1199.77L2258.8 1219.44L2258.41 1239.1L2257.04 1258.77L2255.83 1278.44L2255.24 1298.1L2255.95 1317.77L2256.66 1337.43L2254.67 1357.1L2255.87 1376.76L2254.28 1396.43L2254.59 1416.09L2253.17 1435.76L2252.44 1455.43L2251.51 1475.09L2251.28 1494.76L2252.49 1514.42L2251.01 1534.09L2252.39 1553.75L2251.47 1573.42L2251.49 1593.08L2232.19 1612.75L2255.51 1632.41L2272.17 1652.08L2249.95 1671.75L2229.96 1691.41L2434.31 1711.08" stroke="#651212" stroke-opacity="0.93"/>
<path d="M2261.38 196.83L2256.52 216.5L2255.4 236.17L2255.02 255.83L2244.47 275.5L2257.77 295.16L2258.04 314.83L2262.21 334.49L2251.3 354.16L2250.29 373.82L2242.31 393.49L2236.07 413.15L2255.45 432.82L2242.43 452.49L2251.18 472.15L2251.78 491.82L2248.53 511.48L2252.22 531.15L2250.93 550.81L2252.05 570.48L2247.26 590.14L2251.31 609.81L2251.6 629.48L2244.81 649.14L2252.22 668.81L2252.57 688.47L2250.41 708.14L2250.12 727.8L2253.49 747.47L2250.29 767.13L2249.59 786.8L2252.18 806.46L2253.86 826.13L2251.68 845.8L2250.01 865.46L2255.22 885.13L2255.12 904.79L2256.33 924.46L2257.61 944.12L2255.43 963.79L2257.24 983.45L2255.76 1003.12L2260.23 1022.78L2262.4 1042.45L2261 1062.12L2265.41 1081.78L2266.02 1101.45L2265.23 1121.11L2265.23 1140.78L2263.29 1160.44L2261.84 1180.11L2261.98 1199.77L2261.04 1219.44L2258.9 1239.1L2259.01 1258.77L2258.47 1278.44L2258.57 1298.1L2257.28 1317.77L2256.37 1337.43L2256.37 1357.1L2257.27 1376.76L2255.73 1396.43L2255.03 1416.09L2254.53 1435.76L2254.04 1455.43L2253 1475.09L2252.42 1494.76L2253.04 1514.42L2252.72 1534.09L2254.21 1553.75L2254.13 1573.42L2253.14 1593.08L2252.52 1612.75L2253.3 1632.41L2252.18 1652.08L2253.37 1671.75" stroke="#701817" stroke-opacity="0.93"/>
<path d="M2247.32 196.83L2235.52 216.5L2233.6 236.17L2249.86 255.83L2252.59 275.5L2267.94 295.16L2246.6 314.83L2249.26 334.49L2249.25 354.16L2245.26 373.82L2258.34 393.49L2248.14 413.15L2253.69 432.82L2262.66 452.49L2244.09 472.15L2260.38 491.82L2253.46 511.48L2249.73 531.15L2247.26 550.81L2247.36 570.48L2248.72 590.14L2250.96 609.81L2244.86 629.48L2246.35 649.14L2248.78 668.81L2254.37 688.47L2246.74 708.14L2250.15 727.8L2253.99 747.47L2251.29 767.13L2250.07 786.8L2253.45 806.46L2250.89 826.13L2247.06 845.8L2254.93 865.46L2254.04 885.13L2257.54 904.79L2257.09 924.46L2256.44 944.12L2258.16 963.79L2257.86 983.45L2258.62 1003.12L2259.33 1022.78L2259.67 1042.45L2263.19 1062.12L2266.25 1081.78L2265.9 1101.45L2264.77 1121.11L2265.71 1140.78L2264.42 1160.44L2262.93 1180.11L2262.76 1199.77L2260.31 1219.44L2259.59 1239.1L2258.03 1258.77L2258.48 1278.44L2258.64 1298.1L2256.88 1317.77L2256.74 1337.43L2256.64 1357.1L2257.28 1376.76L2256.05 1396.43L2255.68 1416.09L2255.65 1435.76L2254.16 1455.43L2254.46 1475.09L2253.84 1494.76L2254.38 1514.42L2253.91 1534.09L2253.33 1553.75L2272.17 1573.42L2261.06 1593.08L2372.11 1612.75L2555.35 1632.41L2372.11 1652.08L2321.03 1663.88L2294.38 1671.75L2261.06 1691.41L2255.51 1711.08L2266.61 1730.74L2255.51 1750.41" stroke="#7c1e1b" stroke-opacity="0.93"/>
<path d="M2240.34 196.83L2266.33 216.5L2257.94 236.17L2233.27 255.83L2252.01 275.5L2246.4 295.16L2246.69 314.83L2255.67 334.49L2244.64 354.16L2243.76 373.82L2246.96 393.49L2242.31 413.15L2243.54 432.82L2239.75 452.49L2245.27 472.15L2252.41 491.82L2244.7 511.48L2241.73 531.15L2243.79 550.81L2256.61 570.48L2245.28 590.14L2249.88 609.81L2254.34 629.48L2252.48 649.14L2246.33 668.81L2243.93 688.47L2246.51 708.14L2248.47 727.8L2251.94 747.47L2249.25 767.13L2251.97 786.8L2243.69 806.46L2250.63 826.13L2251 845.8L2252.12 865.46L2252.2 885.13L2252.43 904.79L2250.91 924.46L2254.06 944.12L2253.04 963.79L2255.85 983.45L2257.2 1003.12L2257.82 1022.78L2259.32 1042.45L2261.7 1062.12L2263.45 1081.78L2262.79 1101.45L2264.13 1121.11L2262.69 1140.78L2261.2 1160.44L2260.91 1180.11L2260.08 1199.77L2260.19 1219.44L2257.17 1239.1L2257.1 1258.77L2256.23 1278.44L2256.58 1298.1L2255.57 1317.77L2254.14 1337.43L2254.97 1357.1L2253.62 1376.76L2255.01 1396.43L2253.41 1416.09L2252.24 1435.76L2253.03 1455.43L2251.33 1475.09L2277.72 1494.76L2294.38 1514.42L2292.16 1534.09L2261.06 1553.75L2235.52 1573.42L2249.95 1593.08L2231.08 1612.75L2261.06 1632.41L2255.51 1652.08L2244.4 1671.75L2261.06 1691.41" stroke="#882420" stroke-opacity="0.93"/>
<path d="M2237.21 196.83L2227.06 216.5L2251.02 236.17L2254.89 255.83L2246.51 275.5L2243.49 295.16L2244.92 314.83L2236.39 334.49L2256.43 354.16L2252.44 373.82L2252.53 393.49L2255.3 413.15L2253.9 432.82L2248.25 452.49L2246.95 472.15L2252.25 491.82L2251.48 511.48L2251.93 531.15L2258.16 550.81L2252.1 570.48L2248.54 590.14L2246.61 609.81L2250.71 629.48L2242.28 649.14L2250.5 668.81L2255.57 688.47L2252.86 708.14L2253.02 727.8L2249.59 747.47L2253.83 767.13L2250.44 786.8L2250.66 806.46L2250.35 826.13L2255.99 845.8L2252.03 865.46L2256.51 885.13L2255.07 904.79L2252.53 924.46L2256.47 944.12L2257.9 963.79L2257.54 983.45L2257.16 1003.12L2259.18 1022.78L2262.07 1042.45L2264.98 1062.12L2265.61 1081.78L2266.54 1101.45L2267.55 1121.11L2266.26 1140.78L2264.51 1160.44L2262.84 1180.11L2261.48 1199.77L2261.53 1219.44L2258.19 1239.1L2258.7 1258.77L2258.63 1278.44L2259.51 1298.1L2257.79 1317.77L2257.41 1337.43L2256.54 1357.1L2257.5 1376.76L2255.3 1396.43L2256.51 1416.09L2255.73 1435.76L2255.49 1455.43L2254.5 1475.09L2254.11 1494.76L2254.85 1514.42L2253.43 1534.09L2254.52 1553.75L2253.84 1573.42L2253.72 1593.08L2254.22 1612.75L2254.65 1632.41L2253.68 1652.08L2253.32 1671.75L2252.96 1691.41L2255.51 1711.08L2261.06 1730.74L2272.17 1750.41L2249.95 1770.07L2244.4 1789.74L2266.61 1809.4L2236.63 1829.07L2238.85 1848.73L2233.85 1868.4L2232.19 1888.07" stroke="#932a25" stroke-opacity="0.93"/>
<path d="M2249.66 196.83L2243.95 216.5L2251.12 236.17L2242.11 255.83L2233.64 275.5L2242.33 295.16L2248.19 314.83L2260.74 334.49L2259.47 354.16L2246.59 373.82L2246.17 393.49L2252.4 413.15L2254.52 432.82L2248.62 452.49L2253.87 472.15L2242.82 491.82L2252.07 511.48L2253.15 531.15L2243.62 550.81L2253.38 570.48L2249.6 590.14L2253.94 609.81L2246.04 629.48L2248.24 649.14L2251.57 668.81L2246.21 688.47L2253.1 708.14L2244.29 727.8L2249.49 747.47L2246.73 767.13L2250.19 786.8L2249.66 806.46L2250.82 826.13L2247.23 845.8L2251.22 865.46L2250.94 885.13L2254.83 904.79L2252.56 924.46L2257.88 944.12L2254.8 963.79L2258.38 983.45L2257.23 1003.12L2257.25 1022.78L2260.59 1042.45L2261.42 1062.12L2266.37 1081.78L2264.78 1101.45L2265.72 1121.11L2263.84 1140.78L2262.48 1160.44L2262.21 1180.11L2260.84 1199.77L2258.23 1219.44L2258.66 1239.1L2259.17 1258.77L2258.51 1278.44L2257.83 1298.1L2257.63 1317.77L2256.22 1337.43L2256.52 1357.1L2256.68 1376.76L2255.16 1396.43L2255.65 1416.09L2254.46 1435.76L2254.28 1455.43L2254.23 1475.09L2266.61 1494.76L2311.03 1514.42L2283.27 1534.09L2272.17 1553.75L2329.91 1573.42L2447.63 1593.08L2356.57 1612.75L2364.34 1632.41L2311.03 1652.08L2283.27 1671.75L2294.38 1691.41L2277.72 1711.08L2288.82 1730.74L2261.06 1750.41L2277.72 1770.07L2261.06 1789.74" stroke="#9f2f29" stroke-opacity="0.93"/>
<path d="M2289.52 196.83L2256.07 216.5L2246.63 236.17L2263.73 255.83L2253.94 275.5L2258.15 295.16L2245.59 314.83L2231.28 334.49L2247.91 354.16L2255.16 373.82L2258.51 393.49L2253.92 413.15L2249.52 432.82L2251.8 452.49L2256.06 472.15L2256.5 491.82L2245.02 511.48L2243.43 531.15L2250.15 550.81L2246.07 570.48L2255.56 590.14L2255.3 609.81L2245.94 629.48L2247.3 649.14L2252.68 668.81L2251.6 688.47L2251.55 708.14L2249.92 727.8L2248.17 747.47L2254.77 767.13L2248.38 786.8L2250.68 806.46L2256.07 826.13L2253.78 845.8L2253.76 865.46L2257.81 885.13L2255.27 904.79L2259.6 924.46L2256.02 944.12L2258.08 963.79L2257.11 983.45L2258.14 1003.12L2260.5 1022.78L2262.07 1042.45L2262.96 1062.12L2265.64 1081.78L2266 1101.45L2266.86 1121.11L2265.89 1140.78L2263.6 1160.44L2264.19 1180.11L2264.17 1199.77L2260.4 1219.44L2260.94 1239.1L2258.9 1258.77L2260.46 1278.44L2257.37 1298.1L2258.47 1317.77L2258.1 1337.43L2257.9 1357.1L2257.8 1376.76L2256.51 1396.43L2256.71 1416.09L2256.4 1435.76L2255.04 1455.43L2255.54 1475.09L2255.48 1494.76L2253.93 1514.42L2288.82 1534.09L2266.61 1553.75L2238.85 1573.42L2255.51 1593.08L2288.82 1612.75L2272.17 1632.41L2238.85 1652.08L2278.83 1671.75L2255.51 1691.41L2283.27 1711.08L2272.17 1730.74L2234.41 1750.41L2261.06 1770.07L2283.27 1789.74L2306.59 1809.4L2255.51 1829.07L2295.49 1848.73L2255.51 1868.4L2238.85 1888.07" stroke="#aa352e" stroke-opacity="0.93"/>
<path d="M2238.26 196.83L2225.59 216.5L2243.27 236.17L2252.79 255.83L2257.46 275.5L2250.31 295.16L2254.19 314.83L2250.53 334.49L2239.54 354.16L2246.86 373.82L2251.79 393.49L2245.95 413.15L2252.96 432.82L2251.14 452.49L2245.97 472.15L2251.28 491.82L2250.69 511.48L2241.27 531.15L2254.06 550.81L2249.28 570.48L2253.76 590.14L2248.13 609.81L2251.19 629.48L2241.54 649.14L2248.98 668.81L2253.49 688.47L2255.73 708.14L2250.83 727.8L2246.24 747.47L2250.97 767.13L2251.88 786.8L2251.58 806.46L2251.98 826.13L2250.74 845.8L2256.67 865.46L2253.6 885.13L2256.1 904.79L2257.93 924.46L2255.99 944.12L2254.27 963.79L2259.93 983.45L2256.65 1003.12L2259.91 1022.78L2259.26 1042.45L2263.02 1062.12L2264.26 1081.78L2264.63 1101.45L2266.19 1121.11L2264.3 1140.78L2264.27 1160.44L2262.11 1180.11L2259.69 1199.77L2260.45 1219.44L2259.85 1239.1L2257.92 1258.77L2257.5 1278.44L2259.01 1298.1L2258.54 1317.77L2258.58 1337.43L2258.87 1357.1L2255.67 1376.76L2253.1 1396.43L2254.48 1416.09L2254.13 1435.76L2252.45 1455.43L2253.97 1475.09L2253.67 1494.76L2299.93 1514.42L2277.72 1534.09L2294.38 1553.75L2366.56 1573.42L2382.11 1593.08L2348.79 1612.75L2359.9 1632.41L2281.05 1652.08L2297.71 1671.75L2276.61 1691.41L2287.71 1711.08L2279.94 1730.74L2293.27 1750.41L2263.28 1770.07L2276.61 1789.74L2256.62 1809.4" stroke="#b63b33" stroke-opacity="0.93"/>
<path d="M2250.11 196.83L2246.78 216.5L2263.69 236.17L2240.06 255.83L2238.6 275.5L2234.24 295.16L2240.57 314.83L2264.59 334.49L2248.14 354.16L2246 373.82L2247.22 393.49L2239.28 413.15L2256.84 432.82L2236.7 452.49L2244.76 472.15L2241.92 491.82L2254.2 511.48L2248.54 531.15L2254.9 550.81L2257.59 570.48L2243.87 590.14L2238.63 609.81L2249.28 629.48L2245.13 649.14L2252.85 668.81L2249.95 688.47L2251.97 708.14L2261.8 727.8L2250.77 747.47L2247.68 767.13L2251.23 786.8L2252.39 806.46L2251.73 826.13L2254.89 845.8L2254.3 865.46L2257.41 885.13L2258.51 904.79L2258.22 924.46L2256.74 944.12L2257.34 963.79L2256.59 983.45L2258.36 1003.12L2260.84 1022.78L2264.38 1042.45L2262.99 1062.12L2264.91 1081.78L2267.14 1101.45L2266.11 1121.11L2265.07 1140.78L2264.57 1160.44L2263.59 1180.11L2263.17 1199.77L2260.54 1219.44L2261.41 1239.1L2258.85 1258.77L2256.78 1278.44L2259.1 1298.1L2258.22 1317.77L2258.18 1337.43L2259.83 1357.1L2258.38 1376.76L2256.47 1396.43L2256.48 1416.09L2256.2 1435.76L2257.43 1455.43L2255.19 1475.09L2254.81 1494.76L2253.41 1514.42L2244.4 1534.09L2535.36 1553.75" stroke="#c24137" stroke-opacity="0.93"/>
<path d="M2277.56 196.83L2246.24 216.5L2265.38 236.17L2254.71 255.83L2251.27 275.5L2252.11 295.16L2263.24 314.83L2222.96 334.49L2235.5 354.16L2247.53 373.82L2252.02 393.49L2252.31 413.15L2248.59 432.82L2252.48 452.49L2250.11 472.15L2244.92 491.82L2247.02 511.48L2249.85 531.15L2251.39 550.81L2254.65 570.48L2244.58 590.14L2249.1 609.81L2242.98 629.48L2247.75 649.14L2253.18 668.81L2255 688.47L2255.36 708.14L2254.02 727.8L2254.15 747.47L2243.85 767.13L2254.43 786.8L2248.79 806.46L2256.34 826.13L2251.34 845.8L2252.91 865.46L2253.28 885.13L2256.16 904.79L2255.55 924.46L2258.93 944.12L2253.95 963.79L2257.74 983.45L2255.89 1003.12L2259.95 1022.78L2262.67 1042.45L2264.3 1062.12L2265.19 1081.78L2266.46 1101.45L2264.31 1121.11L2264.23 1140.78L2263.63 1160.44L2262.53 1180.11L2262.23 1199.77L2260.37 1219.44L2259.34 1239.1L2257.89 1258.77L2259.3 1278.44L2257.8 1298.1L2258.13 1317.77L2258 1337.43L2256.78 1357.1L2257.67 1376.76L2255.94 1396.43L2255.28 1416.09L2254.01 1435.76L2253.43 1455.43L2253.53 1475.09L2253.9 1494.76L2253.19 1514.42L2254.4 1534.09L2259.95 1553.75L2438.75 1573.42L2626.43 1593.08" stroke="#cd473c" stroke-opacity="0.93"/>
<path d="M2248.73 196.83L2251.79 216.5L2233.4 236.17L2255.24 255.83L2244.08 275.5L2257.75 295.16L2240.39 314.83L2247.03 334.49L2241.28 354.16L2258.87 373.82L2231.11 393.49L2251.6 413.15L2252.77 432.82L2235.5 452.49L2241.81 472.15L2244.81 491.82L2248.98 511.48L2236.26 531.15L2246.18 550.81L2252.07 570.48L2242.79 590.14L2249.64 609.81L2245.27 629.48L2252.4 649.14L2247.87 668.81L2249.69 688.47L2239.08 708.14L2248.44 727.8L2254.5 747.47L2252.86 767.13L2246.33 786.8L2242.99 806.46L2250.67 826.13L2255.3 845.8L2253.32 865.46L2253.23 885.13L2252.11 904.79L2252.84 924.46L2256.94 944.12L2257.35 963.79L2253.48 983.45L2254.72 1003.12L2255.06 1022.78L2260.12 1042.45L2261.15 1062.12L2263.36 1081.78L2265.46 1101.45L2263.96 1121.11L2263.69 1140.78L2263.43 1160.44L2262.58 1180.11L2258.81 1199.77L2257.38 1219.44L2258.27 1239.1L2257.26 1258.77L2257.59 1278.44L2257.98 1298.1L2256.84 1317.77L2254.14 1337.43L2255.56 1357.1L2254.57 1376.76L2253.76 1396.43L2253.88 1416.09L2252.77 1435.76L2251.62 1455.43L2253.3 1475.09L2252.06 1494.76L2252.17 1514.42L2253.54 1534.09L2261.06 1553.75L2244.4 1573.42L2266.61 1593.08L2272.17 1612.75L2283.27 1632.41L2261.06 1652.08L2272.17 1671.75L2288.82 1691.41L2305.48 1711.08L2345.46 1730.74L2288.82 1750.41L2283.27 1770.07L2307.7 1789.74L2258.84 1809.4L2295.49 1829.07L2249.95 1848.73L2261.06 1868.4L2251.13 1888.07" stroke="#d94d41" stroke-opacity="0.93"/>
<path d="M2239.66 196.83L2263.38 216.5L2234.54 236.17L2246.68 255.83L2250.72 275.5L2253.5 295.16L2256.64 314.83L2273.92 334.49L2264.39 354.16L2242.53 373.82L2248.21 393.49L2262.42 413.15L2255.96 432.82L2234.57 452.49L2275.46 472.15L2257.94 491.82L2254.24 511.48L2240.41 531.15L2251.64 550.81L2248.24 570.48L2255.78 590.14L2257.1 609.81L2245.87 629.48L2256.83 649.14L2247.35 668.81L2241.59 688.47L2252.73 708.14L2255.66 727.8L2255.79 747.47L2250.59 767.13L2253.45 786.8L2252.39 806.46L2250.68 826.13L2253.4 845.8L2251.49 865.46L2256.18 885.13L2256.42 904.79L2255.98 924.46L2259.23 944.12L2256.22 963.79L2256 983.45L2257.08 1003.12L2261.47 1022.78L2260.67 1042.45L2264.49 1062.12L2265.88 1081.78L2263.71 1101.45L2268.28 1121.11L2263.38 1140.78L2265.41 1160.44L2261 1180.11L2262.69 1199.77L2260.64 1219.44L2259.59 1239.1L2260.18 1258.77L2259.14 1278.44L2257.09 1298.1L2259.99 1317.77L2256.5 1337.43L2256.98 1357.1L2257.1 1376.76L2256.69 1396.43L2256.37 1416.09L2255.07 1435.76L2254.77 1455.43L2252.96 1475.09L2252.77 1494.76L2261.06 1514.42L2337.69 1534.09L2317.7 1553.75L2318.81 1573.42L2295.49 1593.08L2321.03 1612.75L2304.37 1632.41L2337.69 1652.08L2263.28 1671.75" stroke="#e45345" stroke-opacity="0.93"/>
<path d="M2255.82 196.83L2242.75 216.5L2245.92 236.17L2252.86 255.83L2259.49 275.5L2250.42 295.16L2237.36 314.83L2228.5 334.49L2229.87 354.16L2235.89 373.82L2247.15 393.49L2252.65 413.15L2252.6 432.82L2230.03 452.49L2242.53 472.15L2249.49 491.82L2236.66 511.48L2251.34 531.15L2240.88 550.81L2251.32 570.48L2239.58 590.14L2238.63 609.81L2242.43 629.48L2248.55 649.14L2254.74 668.81L2250.74 688.47L2250.86 708.14L2251.98 727.8L2251.87 747.47L2250.03 767.13L2249.57 786.8L2246.95 806.46L2252 826.13L2249.92 845.8L2250.98 865.46L2251.82 885.13L2249.36 904.79L2248.38 924.46L2251.13 944.12L2253.23 963.79L2252.67 983.45L2255.42 1003.12L2255.52 1022.78L2259.17 1042.45L2261.62 1062.12L2263.23 1081.78L2263.71 1101.45L2262.04 1121.11L2261.76 1140.78L2261.96 1160.44L2261.4 1180.11L2259.42 1199.77L2258.59 1219.44L2258.1 1239.1L2256 1258.77L2257.39 1278.44L2256.81 1298.1L2254.48 1317.77L2257.18 1337.43L2255.38 1357.1L2253.63 1376.76L2255.4 1396.43L2252.71 1416.09L2252.89 1435.76L2252.11 1455.43L2253.11 1475.09L2259.95 1494.76L2428.75 1514.42L2468.73 1534.09L2394.33 1553.75L2319.92 1573.42L2257.73 1593.08L2261.06 1612.75L2265.5 1632.41L2237.74 1652.08L2235.52 1671.75L2249.95 1691.41L2249.95 1711.08L2251.07 1730.74L2252.18 1750.41L2251.07 1770.07L2249.95 1789.74L2251.07 1809.4L2259.95 1829.07L2247.73 1848.73L2251.07 1868.4L2252.18 1888.07" stroke="#f0594a" stroke-opacity="0.93"/>
</g></g>
<rect x="2138.9" y="216.5" width="1221.6" height="1651.9" fill="none" stroke="#fff" stroke-width="5.56"/>
<path d="M2136.12 1789.74h-9.7M2136.12 1593.08h-9.7M2136.12 1396.43h-9.7M2136.12 1199.77h-9.7M2136.12 1003.12h-9.7M2136.12 806.46h-9.7M2136.12 609.81h-9.7M2136.12 413.15h-9.7M2136.12 216.5h-9.7M2249.95 1871.18v9.7M2472.06 1871.18v9.7M2694.17 1871.18v9.7M2916.28 1871.18v9.7M3138.39 1871.18v9.7M3360.5 1871.18v9.7" stroke="#fff" stroke-width="2.3" fill="none"/>
<text x="2064.16" y="1805.29" font-family="'Liberation Sans', sans-serif" font-size="44.38" font-weight="normal" fill="#fff" stroke="#fff" stroke-width="0.89" stroke-linejoin="round" textLength="48.43" lengthAdjust="spacingAndGlyphs">10</text>
<text x="2065.83" y="1608.64" font-family="'Liberation Sans', sans-serif" font-size="44.38" font-weight="normal" fill="#fff" stroke="#fff" stroke-width="0.89" stroke-linejoin="round" textLength="46.81" lengthAdjust="spacingAndGlyphs">15</text>
<text x="2060.81" y="1411.98" font-family="'Liberation Sans', sans-serif" font-size="44.38" font-weight="normal" fill="#fff" stroke="#fff" stroke-width="0.89" stroke-linejoin="round" textLength="51.9" lengthAdjust="spacingAndGlyphs">20</text>
<text x="2062.44" y="1215.33" font-family="'Liberation Sans', sans-serif" font-size="44.38" font-weight="normal" fill="#fff" stroke="#fff" stroke-width="0.89" stroke-linejoin="round" textLength="50.33" lengthAdjust="spacingAndGlyphs">25</text>
<text x="2062.53" y="1018.68" font-family="'Liberation Sans', sans-serif" font-size="44.38" font-weight="normal" fill="#fff" stroke="#fff" stroke-width="0.89" stroke-linejoin="round" textLength="50.12" lengthAdjust="spacingAndGlyphs">30</text>
<text x="2064.15" y="822.02" font-family="'Liberation Sans', sans-serif" font-size="44.38" font-weight="normal" fill="#fff" stroke="#fff" stroke-width="0.89" stroke-linejoin="round" textLength="48.56" lengthAdjust="spacingAndGlyphs">35</text>
<text x="2058.2" y="625.37" font-family="'Liberation Sans', sans-serif" font-size="44.38" font-weight="normal" fill="#fff" stroke="#fff" stroke-width="0.89" stroke-linejoin="round" textLength="54.61" lengthAdjust="spacingAndGlyphs">40</text>
<text x="2059.79" y="428.71" font-family="'Liberation Sans', sans-serif" font-size="44.38" font-weight="normal" fill="#fff" stroke="#fff" stroke-width="0.89" stroke-linejoin="round" textLength="53.09" lengthAdjust="spacingAndGlyphs">45</text>
<text x="2060.05" y="232.06" font-family="'Liberation Sans', sans-serif" font-size="44.38" font-weight="normal" fill="#fff" stroke="#fff" stroke-width="0.89" stroke-linejoin="round" textLength="52.69" lengthAdjust="spacingAndGlyphs">50</text>
<text x="2236.83" y="1925.86" font-family="'Liberation Sans', sans-serif" font-size="44.38" font-weight="normal" fill="#fff" stroke="#fff" stroke-width="0.89" stroke-linejoin="round" textLength="25.38" lengthAdjust="spacingAndGlyphs">0</text>
<text x="2445.47" y="1925.86" font-family="'Liberation Sans', sans-serif" font-size="44.38" font-weight="normal" fill="#fff" stroke="#fff" stroke-width="0.89" stroke-linejoin="round" textLength="51.9" lengthAdjust="spacingAndGlyphs">20</text>
<text x="2666.89" y="1925.86" font-family="'Liberation Sans', sans-serif" font-size="44.38" font-weight="normal" fill="#fff" stroke="#fff" stroke-width="0.89" stroke-linejoin="round" textLength="54.61" lengthAdjust="spacingAndGlyphs">40</text>
<text x="2889.23" y="1925.86" font-family="'Liberation Sans', sans-serif" font-size="44.38" font-weight="normal" fill="#fff" stroke="#fff" stroke-width="0.89" stroke-linejoin="round" textLength="52.82" lengthAdjust="spacingAndGlyphs">60</text>
<text x="3111.13" y="1925.86" font-family="'Liberation Sans', sans-serif" font-size="44.38" font-weight="normal" fill="#fff" stroke="#fff" stroke-width="0.89" stroke-linejoin="round" textLength="53.6" lengthAdjust="spacingAndGlyphs">80</text>
<text x="3319.97" y="1925.86" font-family="'Liberation Sans', sans-serif" font-size="44.38" font-weight="normal" fill="#fff" stroke="#fff" stroke-width="0.89" stroke-linejoin="round" textLength="77.38" lengthAdjust="spacingAndGlyphs">100</text>
<text stroke-linejoin="round"><tspan x="2198.54" y="2001.35" font-family="'Liberation Sans', sans-serif" font-size="58.61" font-weight="normal" fill="#fff" stroke="#fff" stroke-width="0.7" textLength="618.88" lengthAdjust="spacingAndGlyphs">Aerosol-To-Molecular</tspan><tspan> </tspan><tspan x="2837.18" y="2001.35" font-family="'Liberation Sans', sans-serif" font-size="58.61" font-weight="normal" fill="#fff" stroke="#fff" stroke-width="0.7" textLength="290.42" lengthAdjust="spacingAndGlyphs">Extinction</tspan><tspan> </tspan><tspan x="3144.51" y="2001.35" font-family="'Liberation Sans', sans-serif" font-size="58.61" font-weight="normal" fill="#fff" stroke="#fff" stroke-width="0.7" textLength="155.39" lengthAdjust="spacingAndGlyphs">Ratio</tspan></text>
<g transform="translate(2023.65 1233.4) rotate(-90)">
<text stroke-linejoin="round"><tspan x="0.19" y="-0.36" font-family="'Liberation Sans', sans-serif" font-size="59.33" font-weight="normal" fill="#fff" stroke="#fff" stroke-width="0.71" textLength="226.99" lengthAdjust="spacingAndGlyphs">Altitude</tspan><tspan> </tspan><tspan x="244.53" y="-0.36" font-family="'Liberation Sans', sans-serif" font-size="59.33" font-weight="normal" fill="#fff" stroke="#fff" stroke-width="0.71" textLength="138.85" lengthAdjust="spacingAndGlyphs">[km]</tspan></text>
</g>
<text x="1158.68" y="194.68" font-family="'Liberation Sans', sans-serif" font-size="61.63" font-weight="bold" fill="#fff" stroke="#fff" stroke-width="1.23" stroke-linejoin="round" textLength="248.95" lengthAdjust="spacingAndGlyphs">Sunrise</text>
<text x="2636.9" y="194.68" font-family="'Liberation Sans', sans-serif" font-size="61.63" font-weight="bold" fill="#fff" stroke="#fff" stroke-width="1.23" stroke-linejoin="round" textLength="223.83" lengthAdjust="spacingAndGlyphs">Sunset</text>
<text stroke-linejoin="round"><tspan x="802.1" y="101.11" font-family="'Liberation Sans', sans-serif" font-size="79.15" font-weight="bold" fill="#fff" stroke="#fff" stroke-width="1.58" textLength="216.08" lengthAdjust="spacingAndGlyphs">SAGE</tspan><tspan> </tspan><tspan x="1046.5" y="101.15" font-family="'DejaVu Sans Mono', 'Liberation Mono', monospace" font-size="74.67" font-weight="bold" fill="#fff" stroke="#fff" stroke-width="1.49" textLength="132.7" lengthAdjust="spacingAndGlyphs">III</tspan><tspan x="1180.62" y="109.73" rotate="9.66" font-family="'Liberation Sans', sans-serif" font-size="95.09" font-weight="bold" fill="#fff" stroke="#fff" stroke-width="2.47">/</tspan><tspan x="1227.93" y="101.15" font-family="'DejaVu Sans Mono', 'Liberation Mono', monospace" font-size="74.67" font-weight="bold" fill="#fff" stroke="#fff" stroke-width="1.49" textLength="44" lengthAdjust="spacingAndGlyphs">I</tspan><tspan x="1275.62" y="101.11" font-family="'Liberation Sans', sans-serif" font-size="79.15" font-weight="bold" fill="#fff" stroke="#fff" stroke-width="1.58" textLength="96.4" lengthAdjust="spacingAndGlyphs">SS</tspan><tspan> </tspan><tspan x="1398.75" y="101.11" font-family="'Liberation Sans', sans-serif" font-size="79.15" font-weight="bold" fill="#fff" stroke="#fff" stroke-width="1.58" textLength="265.06" lengthAdjust="spacingAndGlyphs">676nm</tspan><tspan> </tspan><tspan x="1687.94" y="101.11" font-family="'Liberation Sans', sans-serif" font-size="79.15" font-weight="bold" fill="#fff" stroke="#fff" stroke-width="1.58" textLength="861.46" lengthAdjust="spacingAndGlyphs">Aerosol-to-Molecular</tspan><tspan> </tspan><tspan x="2577.48" y="101.11" font-family="'Liberation Sans', sans-serif" font-size="79.15" font-weight="bold" fill="#fff" stroke="#fff" stroke-width="1.58" textLength="408.9" lengthAdjust="spacingAndGlyphs">Extinction</tspan><tspan> </tspan><tspan x="3013.33" y="101.11" font-family="'Liberation Sans', sans-serif" font-size="79.15" font-weight="bold" fill="#fff" stroke="#fff" stroke-width="1.58" textLength="217.14" lengthAdjust="spacingAndGlyphs">Ratio</tspan></text>
<text stroke-linejoin="round"><tspan x="1754.66" y="195.31" font-family="'Liberation Sans', sans-serif" font-size="79.15" font-weight="bold" fill="#fff" stroke="#fff" stroke-width="1.58" textLength="82.48" lengthAdjust="spacingAndGlyphs">17</tspan><tspan> </tspan><tspan x="1866.96" y="195.31" font-family="'Liberation Sans', sans-serif" font-size="79.15" font-weight="bold" fill="#fff" stroke="#fff" stroke-width="1.58" textLength="194.57" lengthAdjust="spacingAndGlyphs">April</tspan><tspan> </tspan><tspan x="2087.84" y="195.31" font-family="'Liberation Sans', sans-serif" font-size="79.15" font-weight="bold" fill="#fff" stroke="#fff" stroke-width="1.58" textLength="187.79" lengthAdjust="spacingAndGlyphs">2018</tspan></text>
<rect x="11.8" y="789.8" width="426.7" height="836.7" rx="6" ry="6" fill="#000" stroke="#a3a3a3" stroke-width="2.8"/>
<rect x="22" y="815.1" width="90" height="9.8" fill="#004064"/>
<text x="139.69" y="833.22" font-family="'Liberation Sans', sans-serif" font-size="37.6" font-weight="normal" fill="#fff" stroke="#fff" stroke-width="0.75" stroke-linejoin="round" textLength="276.16" lengthAdjust="spacingAndGlyphs">2018041702SR</text>
<rect x="22" y="874.13" width="90" height="9.8" fill="#00466c"/>
<text x="139.68" y="892.25" font-family="'Liberation Sans', sans-serif" font-size="37.6" font-weight="normal" fill="#fff" stroke="#fff" stroke-width="0.75" stroke-linejoin="round" textLength="277.17" lengthAdjust="spacingAndGlyphs">2018041705SR</text>
<rect x="22" y="933.16" width="90" height="9.8" fill="#004c75"/>
<text x="139.68" y="951.28" font-family="'Liberation Sans', sans-serif" font-size="37.6" font-weight="normal" fill="#fff" stroke="#fff" stroke-width="0.75" stroke-linejoin="round" textLength="277.78" lengthAdjust="spacingAndGlyphs">2018041708SR</text>
<rect x="22" y="992.19" width="90" height="9.8" fill="#00527d"/>
<text x="139.7" y="1010.31" font-family="'Liberation Sans', sans-serif" font-size="37.6" font-weight="normal" fill="#fff" stroke="#fff" stroke-width="0.75" stroke-linejoin="round" textLength="275.14" lengthAdjust="spacingAndGlyphs">2018041714SR</text>
<rect x="22" y="1051.22" width="90" height="9.8" fill="#005786"/>
<text x="139.72" y="1069.34" font-family="'Liberation Sans', sans-serif" font-size="37.6" font-weight="normal" fill="#fff" stroke="#fff" stroke-width="0.75" stroke-linejoin="round" textLength="271.29" lengthAdjust="spacingAndGlyphs">2018041717SR</text>
<rect x="22" y="1110.25" width="90" height="9.8" fill="#005d8e"/>
<text x="139.69" y="1128.37" font-family="'Liberation Sans', sans-serif" font-size="37.6" font-weight="normal" fill="#fff" stroke="#fff" stroke-width="0.75" stroke-linejoin="round" textLength="276.16" lengthAdjust="spacingAndGlyphs">2018041720SR</text>
<rect x="22" y="1169.28" width="90" height="9.8" fill="#006397"/>
<text x="139.71" y="1187.4" font-family="'Liberation Sans', sans-serif" font-size="37.6" font-weight="normal" fill="#fff" stroke="#fff" stroke-width="0.75" stroke-linejoin="round" textLength="272.91" lengthAdjust="spacingAndGlyphs">2018041723SR</text>
<rect x="22" y="1228.31" width="90" height="9.8" fill="#00699f"/>
<text x="139.7" y="1246.43" font-family="'Liberation Sans', sans-serif" font-size="37.6" font-weight="normal" fill="#fff" stroke="#fff" stroke-width="0.75" stroke-linejoin="round" textLength="274.53" lengthAdjust="spacingAndGlyphs">2018041726SR</text>
<rect x="22" y="1287.34" width="90" height="9.8" fill="#006fa8"/>
<text x="139.71" y="1305.46" font-family="'Liberation Sans', sans-serif" font-size="37.6" font-weight="normal" fill="#fff" stroke="#fff" stroke-width="0.75" stroke-linejoin="round" textLength="273.93" lengthAdjust="spacingAndGlyphs">2018041729SR</text>
<rect x="22" y="1346.37" width="90" height="9.8" fill="#0075b0"/>
<text x="139.71" y="1364.49" font-family="'Liberation Sans', sans-serif" font-size="37.6" font-weight="normal" fill="#fff" stroke="#fff" stroke-width="0.75" stroke-linejoin="round" textLength="272.91" lengthAdjust="spacingAndGlyphs">2018041732SR</text>
<rect x="22" y="1405.4" width="90" height="9.8" fill="#007ab9"/>
<text x="139.71" y="1423.52" font-family="'Liberation Sans', sans-serif" font-size="37.6" font-weight="normal" fill="#fff" stroke="#fff" stroke-width="0.75" stroke-linejoin="round" textLength="273.93" lengthAdjust="spacingAndGlyphs">2018041735SR</text>
<rect x="22" y="1464.43" width="90" height="9.8" fill="#0080c1"/>
<text x="139.7" y="1482.55" font-family="'Liberation Sans', sans-serif" font-size="37.6" font-weight="normal" fill="#fff" stroke="#fff" stroke-width="0.75" stroke-linejoin="round" textLength="274.53" lengthAdjust="spacingAndGlyphs">2018041738SR</text>
<rect x="22" y="1523.46" width="90" height="9.8" fill="#0086ca"/>
<text x="139.7" y="1541.58" font-family="'Liberation Sans', sans-serif" font-size="37.6" font-weight="normal" fill="#fff" stroke="#fff" stroke-width="0.75" stroke-linejoin="round" textLength="275.14" lengthAdjust="spacingAndGlyphs">2018041741SR</text>
<rect x="22" y="1582.49" width="90" height="9.8" fill="#008cd2"/>
<text x="139.66" y="1600.61" font-family="'Liberation Sans', sans-serif" font-size="37.6" font-weight="normal" fill="#fff" stroke="#fff" stroke-width="0.75" stroke-linejoin="round" textLength="280.32" lengthAdjust="spacingAndGlyphs">2018041744SR</text>
<rect x="3380.7" y="729.8" width="424.3" height="955.7" rx="6" ry="6" fill="#000" stroke="#a3a3a3" stroke-width="2.8"/>
<rect x="3390.9" y="756.1" width="90" height="9.8" fill="#420004"/>
<text x="3508.19" y="774.22" font-family="'Liberation Sans', sans-serif" font-size="37.6" font-weight="normal" fill="#fff" stroke="#fff" stroke-width="0.75" stroke-linejoin="round" textLength="273.75" lengthAdjust="spacingAndGlyphs">2018041701SS</text>
<rect x="3390.9" y="815.13" width="90" height="9.8" fill="#4e0609"/>
<text x="3508.15" y="833.25" font-family="'Liberation Sans', sans-serif" font-size="37.6" font-weight="normal" fill="#fff" stroke="#fff" stroke-width="0.75" stroke-linejoin="round" textLength="278.92" lengthAdjust="spacingAndGlyphs">2018041704SS</text>
<rect x="3390.9" y="874.16" width="90" height="9.8" fill="#590c0d"/>
<text x="3508.18" y="892.28" font-family="'Liberation Sans', sans-serif" font-size="37.6" font-weight="normal" fill="#fff" stroke="#fff" stroke-width="0.75" stroke-linejoin="round" textLength="275.07" lengthAdjust="spacingAndGlyphs">2018041707SS</text>
<rect x="3390.9" y="933.19" width="90" height="9.8" fill="#651212"/>
<text x="3508.19" y="951.31" font-family="'Liberation Sans', sans-serif" font-size="37.6" font-weight="normal" fill="#fff" stroke="#fff" stroke-width="0.75" stroke-linejoin="round" textLength="273.75" lengthAdjust="spacingAndGlyphs">2018041710SS</text>
<rect x="3390.9" y="992.22" width="90" height="9.8" fill="#701817"/>
<text x="3508.21" y="1010.34" font-family="'Liberation Sans', sans-serif" font-size="37.6" font-weight="normal" fill="#fff" stroke="#fff" stroke-width="0.75" stroke-linejoin="round" textLength="270.5" lengthAdjust="spacingAndGlyphs">2018041713SS</text>
<rect x="3390.9" y="1051.25" width="90" height="9.8" fill="#7c1e1b"/>
<text x="3508.2" y="1069.37" font-family="'Liberation Sans', sans-serif" font-size="37.6" font-weight="normal" fill="#fff" stroke="#fff" stroke-width="0.75" stroke-linejoin="round" textLength="272.12" lengthAdjust="spacingAndGlyphs">2018041716SS</text>
<rect x="3390.9" y="1110.28" width="90" height="9.8" fill="#882420"/>
<text x="3508.21" y="1128.4" font-family="'Liberation Sans', sans-serif" font-size="37.6" font-weight="normal" fill="#fff" stroke="#fff" stroke-width="0.75" stroke-linejoin="round" textLength="271.51" lengthAdjust="spacingAndGlyphs">2018041719SS</text>
<rect x="3390.9" y="1169.31" width="90" height="9.8" fill="#932a25"/>
<text x="3508.19" y="1187.43" font-family="'Liberation Sans', sans-serif" font-size="37.6" font-weight="normal" fill="#fff" stroke="#fff" stroke-width="0.75" stroke-linejoin="round" textLength="273.34" lengthAdjust="spacingAndGlyphs">2018041722SS</text>
<rect x="3390.9" y="1228.34" width="90" height="9.8" fill="#9f2f29"/>
<text x="3508.19" y="1246.46" font-family="'Liberation Sans', sans-serif" font-size="37.6" font-weight="normal" fill="#fff" stroke="#fff" stroke-width="0.75" stroke-linejoin="round" textLength="274.36" lengthAdjust="spacingAndGlyphs">2018041725SS</text>
<rect x="3390.9" y="1287.37" width="90" height="9.8" fill="#aa352e"/>
<text x="3508.18" y="1305.49" font-family="'Liberation Sans', sans-serif" font-size="37.6" font-weight="normal" fill="#fff" stroke="#fff" stroke-width="0.75" stroke-linejoin="round" textLength="274.96" lengthAdjust="spacingAndGlyphs">2018041728SS</text>
<rect x="3390.9" y="1346.4" width="90" height="9.8" fill="#b63b33"/>
<text x="3508.21" y="1364.52" font-family="'Liberation Sans', sans-serif" font-size="37.6" font-weight="normal" fill="#fff" stroke="#fff" stroke-width="0.75" stroke-linejoin="round" textLength="270.5" lengthAdjust="spacingAndGlyphs">2018041731SS</text>
<rect x="3390.9" y="1405.43" width="90" height="9.8" fill="#c24137"/>
<text x="3508.18" y="1423.55" font-family="'Liberation Sans', sans-serif" font-size="37.6" font-weight="normal" fill="#fff" stroke="#fff" stroke-width="0.75" stroke-linejoin="round" textLength="275.67" lengthAdjust="spacingAndGlyphs">2018041734SS</text>
<rect x="3390.9" y="1464.46" width="90" height="9.8" fill="#cd473c"/>
<text x="3508.21" y="1482.58" font-family="'Liberation Sans', sans-serif" font-size="37.6" font-weight="normal" fill="#fff" stroke="#fff" stroke-width="0.75" stroke-linejoin="round" textLength="271.82" lengthAdjust="spacingAndGlyphs">2018041737SS</text>
<rect x="3390.9" y="1523.49" width="90" height="9.8" fill="#d94d41"/>
<text x="3508.15" y="1541.61" font-family="'Liberation Sans', sans-serif" font-size="37.6" font-weight="normal" fill="#fff" stroke="#fff" stroke-width="0.75" stroke-linejoin="round" textLength="278.92" lengthAdjust="spacingAndGlyphs">2018041740SS</text>
<rect x="3390.9" y="1582.52" width="90" height="9.8" fill="#e45345"/>
<text x="3508.18" y="1600.64" font-family="'Liberation Sans', sans-serif" font-size="37.6" font-weight="normal" fill="#fff" stroke="#fff" stroke-width="0.75" stroke-linejoin="round" textLength="275.67" lengthAdjust="spacingAndGlyphs">2018041743SS</text>
<rect x="3390.9" y="1641.55" width="90" height="9.8" fill="#f0594a"/>
<text x="3508.17" y="1659.67" font-family="'Liberation Sans', sans-serif" font-size="37.6" font-weight="normal" fill="#fff" stroke="#fff" stroke-width="0.75" stroke-linejoin="round" textLength="277.3" lengthAdjust="spacingAndGlyphs">2018041746SS</text>
<path d="M39.75 1979.9H120.5" stroke="#fff" stroke-width="10.2" stroke-dasharray="37 16" fill="none"/>
<path d="M39.75 2039.75H120.5" stroke="#fff" stroke-width="10.2" stroke-dasharray="10 16.5" fill="none"/>
<rect x="40.5" y="2085.2" width="80" height="28.6" fill="#6a6d72" stroke="#d0d2d6" stroke-opacity="0.6" stroke-width="2.6"/>
<text x="151.32" y="1993.6" font-family="'Liberation Sans', sans-serif" font-size="40.42" font-weight="normal" fill="#fff" stroke="#fff" stroke-width="0.81" stroke-linejoin="round" textLength="350.08" lengthAdjust="spacingAndGlyphs">Mean Tropopause</text>
<text x="151.3" y="2053.3" font-family="'Liberation Sans', sans-serif" font-size="40.42" font-weight="normal" fill="#fff" stroke="#fff" stroke-width="0.81" stroke-linejoin="round" textLength="386.35" lengthAdjust="spacingAndGlyphs">Median Tropopause</text>
<text x="152.93" y="2112.1" font-family="'Liberation Sans', sans-serif" font-size="40.42" font-weight="normal" fill="#fff" stroke="#fff" stroke-width="0.81" stroke-linejoin="round" textLength="367.89" lengthAdjust="spacingAndGlyphs">Tropopause Range</text>
<text stroke-linejoin="round"><tspan x="3267.23" y="2038.08" font-family="'Liberation Sans', sans-serif" font-size="31.66" font-weight="normal" fill="#808080" stroke="#808080" stroke-width="0.63" textLength="85.73" lengthAdjust="spacingAndGlyphs">SAGE</tspan><tspan> </tspan><tspan x="3364.99" y="2038.1" font-family="'DejaVu Sans Mono', 'Liberation Mono', monospace" font-size="29.87" font-weight="normal" fill="#808080" stroke="#808080" stroke-width="0.6" textLength="52.06" lengthAdjust="spacingAndGlyphs">III</tspan><tspan x="3418.08" y="2045.04" rotate="5.42" font-family="'Liberation Sans', sans-serif" font-size="41.7" font-weight="normal" fill="#808080" stroke="#808080" stroke-width="1.08">/</tspan><tspan x="3436.05" y="2038.1" font-family="'DejaVu Sans Mono', 'Liberation Mono', monospace" font-size="29.87" font-weight="normal" fill="#808080" stroke="#808080" stroke-width="0.6" textLength="16.95" lengthAdjust="spacingAndGlyphs">I</tspan><tspan x="3454.11" y="2038.08" font-family="'Liberation Sans', sans-serif" font-size="31.66" font-weight="normal" fill="#808080" stroke="#808080" stroke-width="0.63" textLength="35.82" lengthAdjust="spacingAndGlyphs">SS</tspan><tspan> </tspan><tspan x="3499.44" y="2038.08" font-family="'Liberation Sans', sans-serif" font-size="31.66" font-weight="normal" fill="#808080" stroke="#808080" stroke-width="0.63" textLength="338.95" lengthAdjust="spacingAndGlyphs">Mission | NASA LaRC</tspan></text>
<text x="3311.64" y="2076.08" font-family="'Liberation Sans', sans-serif" font-size="31.66" font-weight="normal" fill="#808080" stroke="#808080" stroke-width="0.63" stroke-linejoin="round" textLength="528.78" lengthAdjust="spacingAndGlyphs">Preparer: Kevin R. Leavor (AMA)</text>
<text x="3388.57" y="2113.38" font-family="'Liberation Sans', sans-serif" font-size="31.66" font-weight="normal" fill="#808080" stroke="#808080" stroke-width="0.63" stroke-linejoin="round" textLength="449.87" lengthAdjust="spacingAndGlyphs">Generated 2025-07-17 22:25</text>
<text x="3532.75" y="2150.58" font-family="'Liberation Sans', sans-serif" font-size="31.66" font-weight="normal" fill="#808080" stroke="#808080" stroke-width="0.63" stroke-linejoin="round" textLength="305.6" lengthAdjust="spacingAndGlyphs">Data Version: 6.0.0</text>
<g id="logo">
<path d="M3527.3 21.3H3796.7A30 30 0 0 1 3826.7 51.3V215C3826.7 288 3750 388.2 3662 388.2C3574 388.2 3497.3 288 3497.3 215V51.3A30 30 0 0 1 3527.3 21.3Z" fill="#104f82" stroke="#e25a4c" stroke-width="7.2"/>
<circle cx="3661.6" cy="220.3" r="133.35" fill="#104f82" stroke="#c7cbdb" stroke-width="15.9"/>
<clipPath id="lgin"><circle cx="3661.6" cy="220.3" r="125.7"/></clipPath>
<g clip-path="url(#lgin)">
<circle cx="3116.8" cy="649.9" r="708.0" fill="none" stroke="#186eaa" stroke-width="9.5"/>
<circle cx="3116.8" cy="649.9" r="695.7" fill="#0d5590" stroke="#e8f0f8" stroke-width="1.1"/>
<path d="M3599.11 175.53 3615.8 178.57 3640.08 193.74 3658.3 214.99 3661.33 221.06 3662.85 228.65 3665.88 239.27 3662.85 249.9 3665.88 257.49 3670.44 266.59 3668.16 268.87 3661.33 262.04 3656.78 259 3650.71 263.56 3643.12 271.14 3641.3 281.77 3645.4 293.91 3650.71 301.5 3656.78 303.02 3661.33 296.94 3662.85 287.84 3665.88 287.84 3668.92 298.46 3674.99 306.05 3682.58 311.36 3690.17 306.05 3696.24 299.98 3703.83 294.67 3711.41 290.87 3715.97 296.19 3723.56 309.09 3731.9 324.26 3735.7 331.85 3726.59 345.51 3694.72 345.51 3695.48 331.85 3694.72 319.71 3688.65 312.12 3681.06 314.4 3674.99 309.09 3661.33 310.6 3650.71 313.64 3640.08 312.12 3627.94 304.53 3620.35 296.94 3614.28 290.87 3609.73 287.84 3608.21 290.87 3615.8 298.46 3624.91 307.57 3627.94 310.6 3620.35 307.57 3609.73 296.94 3599.11 289.36Z" fill="#5ea56e"/>
<path d="M3621.11 201.33 3625.67 199.81 3627.94 205.88 3635.53 202.85 3638.57 205.88 3634.01 208.92 3640.08 214.99 3641.6 224.1 3637.05 225.61 3634.01 216.51 3629.46 211.95 3626.42 218.03 3622.63 214.99 3624.15 207.4Z" fill="#0d5590"/>
<path d="M3644.64 205.88 3650.71 208.92 3652.22 214.99 3647.67 221.06 3645.4 214.99Z" fill="#0d5590"/>
<path d="M3659.05 221.06 3662.85 222.58 3663.61 228.65 3660.57 227.89Z" fill="#0d5590"/>
</g>
<circle cx="3637.0" cy="144.2" r="23.9" fill="#f2f3f6"/>
<clipPath id="lgmoon"><circle cx="3637.0" cy="144.2" r="23.9"/></clipPath>
<g clip-path="url(#lgmoon)"><circle cx="3640.5" cy="140.7" r="23.9" fill="#d9dce4"/>
<ellipse cx="3630" cy="135.2" rx="6" ry="7" fill="#abb0bd"/>
<ellipse cx="3640" cy="132.2" rx="7" ry="5" fill="#abb0bd"/>
<ellipse cx="3646" cy="142.2" rx="6" ry="8" fill="#abb0bd"/>
<ellipse cx="3637" cy="147.2" rx="5" ry="6" fill="#abb0bd"/>
<ellipse cx="3626" cy="146.2" rx="3" ry="5" fill="#abb0bd"/>
<ellipse cx="3645" cy="153.2" rx="4" ry="3" fill="#abb0bd"/>
</g>
<circle cx="3735.4" cy="280.3" r="23.0" fill="#d3d6df"/>
<clipPath id="lgsun"><circle cx="3735.4" cy="280.3" r="23.0"/></clipPath>
<g clip-path="url(#lgsun)"><circle cx="3741.9" cy="275.8" r="25.0" fill="#fddc97"/></g>
<path d="M3716.0 192.2L3656.8 159.6M3716.0 192.2L3646.2 167.2M3716.0 192.2L3669.7 226.4M3716.0 192.2L3675.0 234.0M3716.0 192.2L3723.3 258.2M3716.0 192.2L3733.4 256.7" stroke="#eef3f8" stroke-width="1.1" fill="none"/>
<g transform="translate(3728.2 179.15) rotate(45)">
<path d="M-21 0H21" stroke="#e3ddd0" stroke-width="2"/>
<rect x="-26.8" y="-19.5" width="12.4" height="17.2" fill="#dfe3ea"/>
<path d="M-23.7 -19.5V-2.3M-20.6 -19.5V-2.3M-17.5 -19.5V-2.3" stroke="#1b3f63" stroke-width="0.9" fill="none"/>
<rect x="-26.8" y="2.3" width="12.4" height="17.2" fill="#dfe3ea"/>
<path d="M-23.7 2.3V19.5M-20.6 2.3V19.5M-17.5 2.3V19.5" stroke="#1b3f63" stroke-width="0.9" fill="none"/>
<path d="M-20.6 -3V3" stroke="#e3ddd0" stroke-width="2.2"/>
<rect x="14.4" y="-19.5" width="12.4" height="17.2" fill="#dfe3ea"/>
<path d="M17.5 -19.5V-2.3M20.6 -19.5V-2.3M23.7 -19.5V-2.3" stroke="#1b3f63" stroke-width="0.9" fill="none"/>
<rect x="14.4" y="2.3" width="12.4" height="17.2" fill="#dfe3ea"/>
<path d="M17.5 2.3V19.5M20.6 2.3V19.5M23.7 2.3V19.5" stroke="#1b3f63" stroke-width="0.9" fill="none"/>
<path d="M20.6 -3V3" stroke="#e3ddd0" stroke-width="2.2"/>
<path d="M-6 -1V-9M-6 1V10M2 -1V-8M2 1V9M7 0V8M-6 9.5H3M-2 5H7M-9 -9H-2" stroke="#e6e9ef" stroke-width="1.5" fill="none"/>
</g>
<path d="M3693.5 107 3694.77 115.23 3703 116.5 3694.77 117.77 3693.5 126 3692.23 117.77 3684 116.5 3692.23 115.23Z" fill="#fff"/>
<circle cx="3693.5" cy="116.5" r="2.4" fill="#fddc97"/>
<path d="M3680 121.8 3680.85 126.75 3685.8 127.6 3680.85 128.45 3680 133.4 3679.15 128.45 3674.2 127.6 3679.15 126.75Z" fill="#fff"/>
<path d="M3703.6 126.3 3704.38 130.52 3708.6 131.3 3704.38 132.08 3703.6 136.3 3702.82 132.08 3698.6 131.3 3702.82 130.52Z" fill="#fff"/>
<clipPath id="lgwz"><circle cx="3661.6" cy="220.3" r="125.7"/><rect x="3490" y="90" width="200" height="115"/></clipPath>
<path d="M3543.83 152.8 3528.58 167.16 3519.61 179.72 3513.33 204.84 3503.46 241.62 3512.43 238.93 3525.89 231.75 3538.45 215.61 3552.8 212.02 3552.8 190.48 3545.63 176.13Z" fill="#d9574a"/>
<path d="M3530.37 183.31 3521.4 204.84 3506.15 240.37 3515.12 234.45 3530.37 217.4 3537.01 197.66Z" fill="#8f2a23"/>
<path d="M3519.61 179.72 3515.12 201.25 3504.35 239.83 3509.74 226.37 3518.71 204.84 3525.89 183.31Z" fill="#e0604f"/>
<g clip-path="url(#lgwz)">
<path d="M3543.83 152.8 3565.36 147.42 3590.48 165.36 3604.84 174.34 3608.07 183.31 3606.63 215.61 3607.89 344.8 3558.19 323.27 3525.89 269.44 3531.27 213.81 3552.8 204.84 3543.83 176.13Z" fill="#d9574a"/>
<path d="M3531.71 236.71 3552.97 211.59 3556.84 248.31 3562.63 286.96 3568.43 302.42 3549.11 279.23 3535.58 250.24Z" fill="#a52c24"/>
<path d="M3538.48 240.58 3545.24 228.99 3549.11 250.24 3556.84 286.96 3552.97 283.09Z" fill="#86201a"/>
<path d="M3553.94 214.49 3560.7 215.46 3562.63 248.31 3569.4 298.55 3562.63 286.96 3556.84 248.31Z" fill="#86201a"/>
<path d="M3570.36 219.32 3575.68 220.29 3582.44 312.08 3576.64 306.28 3572.29 257.97Z" fill="#86201a"/>
<path d="M3587.75 231.88 3592.1 232.85 3597.9 326.57 3592.58 320.77Z" fill="#86201a"/>
<path d="M3601.28 232.85 3604.66 232.85 3607.56 334.3 3604.37 330.43Z" fill="#86201a"/>
<path d="M3563.6 216.43 3568.43 217.39 3572.29 267.63 3569.4 257.97Z" fill="#ec6a5a"/>
<path d="M3580.02 225.12 3584.86 228.99 3587.75 286.96 3583.89 267.63Z" fill="#ec6a5a"/>
<path d="M3561.77 190.48 3568.95 197.66 3574.34 212.02 3567.16 208.43Z" fill="#9a3128"/>
<path d="M3590.48 197.66 3597.66 199.46 3601.25 213.81 3594.97 212.02Z" fill="#9a3128"/>
</g>
<path d="M3543.83 152.8 3561.77 143.83 3574.34 149.21 3583.31 186.9 3604.84 174.34 3608.79 190.48 3590.48 196.23 3567.16 192.64 3549.21 179.72 3542.04 165.36Z" fill="#e0604f"/>
<path d="M3549.21 179.72 3567.16 192.64 3590.48 196.23 3608.79 190.48 3607.53 194.97 3590.48 200.35 3566.26 196.76 3550.11 184.2Z" fill="#a63a30"/>
<path d="M3554.24 208.79 3570.75 215.96 3586.9 219.55 3605.74 215.61" fill="none" stroke="#7a3f1e" stroke-width="5.2"/>
<path d="M3603.58 223.14 3599.1 230.91 3590.13 230.91 3585.64 223.14 3590.13 215.37 3599.1 215.37Z" fill="#7a3a1c" stroke="#d9a05b" stroke-width="1.3"/>
<text x="3594.61" y="226.74" text-anchor="middle" font-family="'Liberation Serif', serif" font-style="italic" font-weight="bold" font-size="11" fill="#e0a85e">S</text>
<path d="M3604.84 167.16 3616.5 169.85 3613.81 180.62 3606.63 191.38 3600.89 186.9Z" fill="#8a4a25"/>
<path d="M3608.79 176.49 3617.76 179.72 3615.61 190.48 3607.53 189.05Z" fill="#dba36f"/>
<path d="M3561.77 142.04 3574.34 133.06 3590.48 127.68 3603.05 130.37 3607.53 137.01 3604.84 142.4 3599.82 149.21 3600.89 159.08 3600.35 167.16 3597.66 183.31 3590.48 190.84 3583.31 186.9 3576.13 174.34 3572.54 161.77 3567.16 151.01Z" fill="#f4f4f4"/>
<path d="M3586.9 138.81 3597.66 136.29 3605.2 142.04 3599.82 149.21 3600.53 157.83 3590.48 158.9 3584.74 151.01Z" fill="#dba36f"/>
<path d="M3590.48 158.9 3600.53 157.83 3600.89 161.77 3595.87 163.93 3590.48 161.77Z" fill="#f4f4f4"/>
<path d="M3593.18 145.98 3599.46 147.06" fill="none" stroke="#6b3a1e" stroke-width="1.2"/>
<path d="M3534.86 122.3 3537.55 143.83 3542.04 170.75 3543.83 185.1" fill="none" stroke="#a8622d" stroke-width="5.0" stroke-linejoin="round"/>
<path d="M3533.96 122.3 3536.65 143.83 3541.14 170.75 3542.93 185.1" fill="none" stroke="#d9a05b" stroke-width="1.5" stroke-linejoin="round"/>
<path d="M3543.83 183.31 3545.63 197.66 3549.21 226.37 3553.7 251.49 3556.75 262.26 3561.42 276.61 3564.29 296.35" fill="none" stroke="#8a4a20" stroke-width="3.4" stroke-linejoin="round"/>
<path d="M3543.83 183.31 3545.63 197.66 3549.21 226.37 3553.7 251.49 3556.75 262.26 3561.42 276.61 3564.29 296.35" fill="none" stroke="#dba055" stroke-width="1.7" stroke-linejoin="round"/>
<path d="M3528.58 176.13 3543.83 173.98 3547.78 186.9 3534.86 192.64 3529.48 186.9Z" fill="#dba36f"/>
<circle cx="3533.06" cy="113.33" r="9.9" fill="#c7cbdb" stroke="#eceef3" stroke-width="1.6"/>
<text fill="#fff"><tspan x="3526.03" y="58.7" font-family="'Liberation Serif', serif" font-size="41.7" font-weight="bold" textLength="112.67" lengthAdjust="spacingAndGlyphs">SAGE</tspan><tspan> </tspan><tspan x="3649.71" y="58.7" font-family="'Liberation Serif', serif" font-size="41.7" font-weight="bold" textLength="53.39" lengthAdjust="spacingAndGlyphs">III</tspan><tspan> </tspan><tspan x="3709.85" y="57.47" font-family="'Liberation Serif', serif" font-weight="bold" font-size="36.3">•</tspan><tspan> </tspan><tspan x="3730.2" y="58.7" font-family="'Liberation Serif', serif" font-size="41.7" font-weight="bold" textLength="64.8" lengthAdjust="spacingAndGlyphs">ISS</tspan></text>
<text x="3527.81" y="72" font-family="'Liberation Sans', sans-serif" font-size="9.1" font-weight="normal" fill="#d6dde8" textLength="173.8" lengthAdjust="spacingAndGlyphs">Stratospheric Aerosol and Gas Experiment III</text>
<text x="3735.99" y="72" font-family="'Liberation Sans', sans-serif" font-size="9.1" font-weight="normal" fill="#d6dde8" textLength="54.27" lengthAdjust="spacingAndGlyphs">International</text>
<text x="3732.76" y="83.2" font-family="'Liberation Sans', sans-serif" font-size="9.1" font-weight="normal" fill="#d6dde8" textLength="60.99" lengthAdjust="spacingAndGlyphs">Space Station</text>
<path id="lgarc" d="M3505.9 120L3505.96 218.39L3506.18 222.52L3506.58 226.73L3507.14 231L3507.86 235.33L3508.75 239.7L3509.79 244.12L3511 248.57L3512.36 253.06L3513.87 257.56L3515.53 262.07L3517.34 266.6L3519.29 271.12L3521.39 275.64L3523.62 280.14L3525.98 284.62L3528.48 289.08L3531.11 293.5L3533.86 297.88L3536.73 302.22L3539.73 306.5L3542.83 310.72L3546.05 314.87L3549.38 318.95L3552.81 322.95L3556.34 326.87L3559.97 330.69L3563.69 334.42L3567.5 338.04L3571.4 341.55L3575.38 344.94L3579.44 348.21L3583.58 351.35L3587.79 354.36L3592.07 357.22L3596.41 359.94L3600.81 362.51L3605.27 364.91L3609.78 367.16L3614.34 369.24L3618.95 371.14L3623.6 372.86L3628.29 374.4L3633.02 375.75L3637.78 376.91L3642.57 377.86L3647.39 378.61L3652.24 379.16L3657.11 379.49L3662 379.6L3666.89 379.49L3671.76 379.16L3676.61 378.61L3681.43 377.86L3686.22 376.91L3690.98 375.75L3695.71 374.4L3700.4 372.86L3705.05 371.14L3709.66 369.24L3714.22 367.16L3718.73 364.91L3723.19 362.51L3727.59 359.94L3731.93 357.22L3736.21 354.36L3740.42 351.35L3744.56 348.21L3748.62 344.94L3752.6 341.55L3756.5 338.04L3760.31 334.42L3764.03 330.69L3767.66 326.87L3771.19 322.95L3774.62 318.95L3777.95 314.87L3781.17 310.72L3784.27 306.5L3787.27 302.22L3790.14 297.88L3792.89 293.5L3795.52 289.08L3798.02 284.62L3800.38 280.14L3802.61 275.64L3804.71 271.12L3806.66 266.6L3808.47 262.07L3810.13 257.56L3811.64 253.06L3813 248.57L3814.21 244.12L3815.25 239.7L3816.14 235.33L3816.86 231L3817.42 226.73L3817.82 222.52L3818.04 218.39L3818.1 120" fill="none"/>
<text font-family="'Liberation Sans', sans-serif" font-weight="bold" font-size="14.6" fill="#fff" stroke="#fff" stroke-width="0.35"><textPath href="#lgarc" startOffset="140.1" textLength="428.04" lengthAdjust="spacing">BALL • NASA LANGLEY RESEARCH CENTER • TAS-I • ESA</textPath></text>
</g>
</svg></body></html>
